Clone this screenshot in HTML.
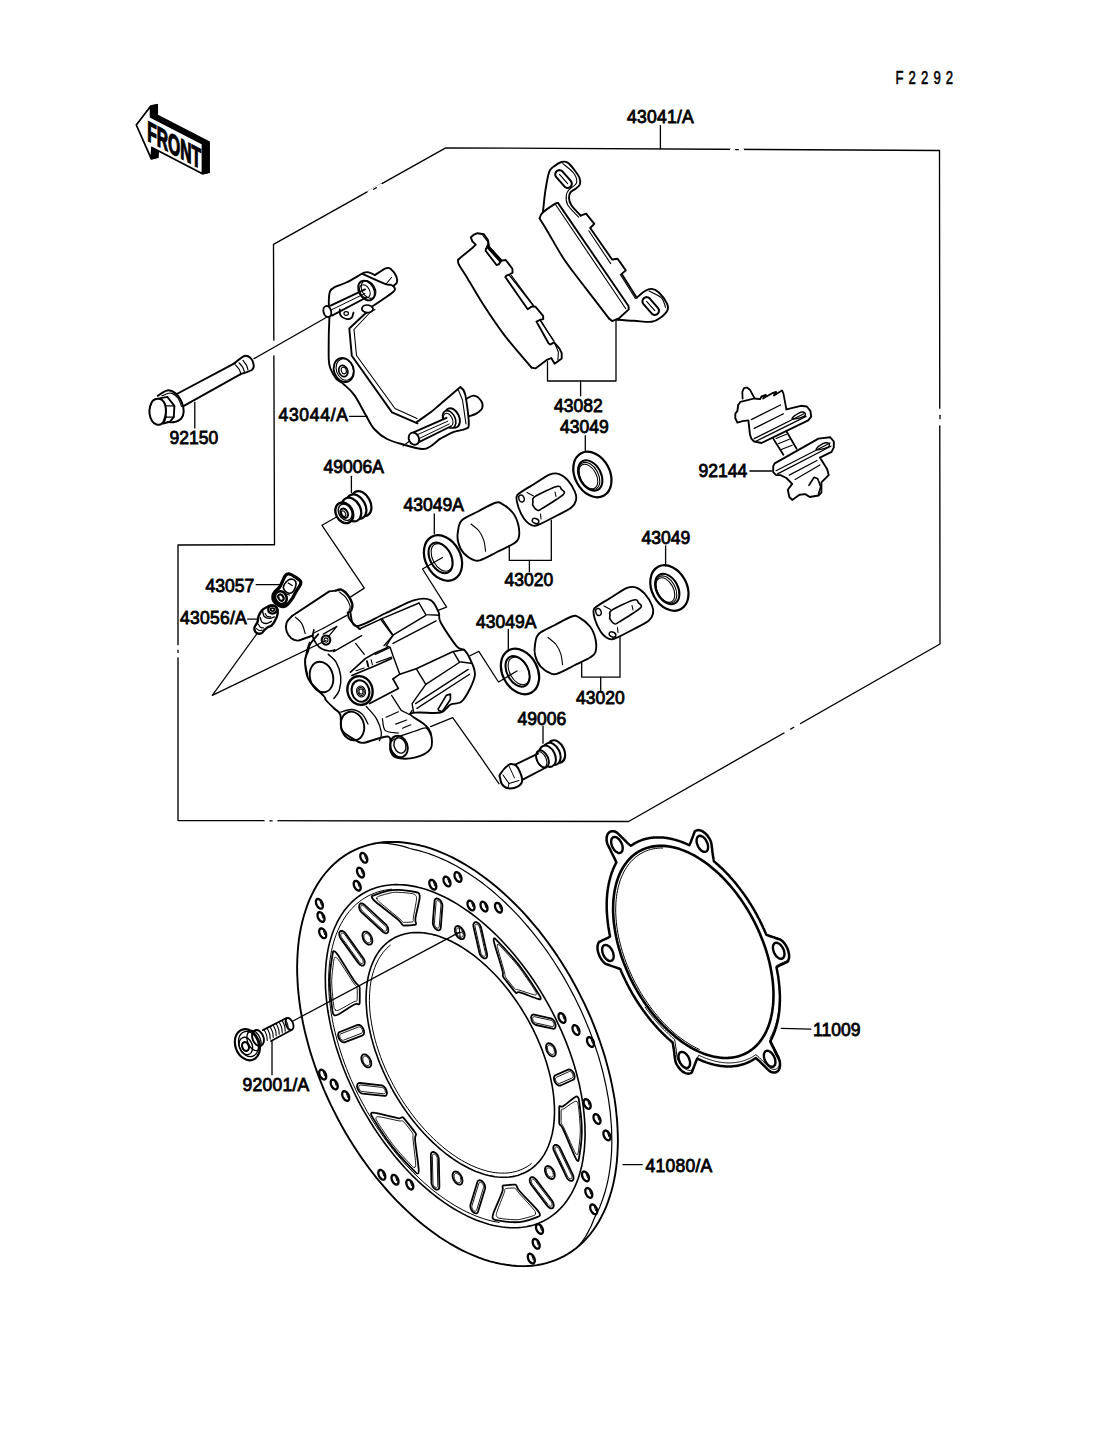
<!DOCTYPE html><html><head><meta charset="utf-8"><style>
html,body{margin:0;padding:0;background:#fff;overflow:hidden;width:1096px;height:1434px}
svg{display:block}
.lbl{font-family:"Liberation Sans",sans-serif;font-size:17.5px;fill:#000;stroke:#000;stroke-width:0.8px}
.fno{font-family:"Liberation Sans",sans-serif;font-size:19px;fill:#000;stroke:#000;stroke-width:0.6px;letter-spacing:7.4px}
path,ellipse{stroke-linejoin:round;stroke-linecap:round}
</style></head><body>
<svg width="1096" height="1434" viewBox="0 0 1096 1434">
<rect width="1096" height="1434" fill="#fff"/>
<path d="M445.7,147.8 L939.5,150.5 L940.0,644.0 L628.6,821.5 L178.0,820.5 L178.0,545.0 L274.5,544.7 L273.5,244.3 Z" fill="none" stroke="#000" stroke-width="1.35" />
<path d="M731.5,149.6 L742.5,149.7" stroke="#fff" stroke-width="3.2" stroke-linecap="butt"/>
<path d="M735.7,149.6 L738.3,149.7" stroke="#000" stroke-width="1.3"/>
<path d="M178,646.5 L178,656" stroke="#fff" stroke-width="3.2" stroke-linecap="butt"/>
<path d="M178.0,650.1 L178.0,652.4" stroke="#000" stroke-width="1.3"/>
<path d="M369,191.8 L381,185.2" stroke="#fff" stroke-width="3.2" stroke-linecap="butt"/>
<path d="M373.6,189.3 L376.4,187.7" stroke="#000" stroke-width="1.3"/>
<path d="M798.8,724.5 L785.7,731.9" stroke="#fff" stroke-width="3.2" stroke-linecap="butt"/>
<path d="M793.8,727.3 L790.7,729.1" stroke="#000" stroke-width="1.3"/>
<path d="M266,820.8 L276,820.8" stroke="#fff" stroke-width="3.2" stroke-linecap="butt"/>
<path d="M269.8,820.8 L272.2,820.8" stroke="#000" stroke-width="1.3"/>
<path d="M273.6,342 L273.6,354" stroke="#fff" stroke-width="3.2" stroke-linecap="butt"/>
<path d="M940,410 L940,424" stroke="#fff" stroke-width="3.2" stroke-linecap="butt"/>
<path d="M940.0,415.3 L940.0,418.7" stroke="#000" stroke-width="1.3"/>
<text transform="translate(895.5,84) scale(0.69,1)" class="fno">F2292</text>
<text x="627" y="123" class="lbl" letter-spacing="0.25">43041/A</text>
<text x="169.5" y="444.3" class="lbl" text-anchor="start">92150</text>
<text x="278.5" y="421.3" class="lbl" letter-spacing="0.7">43044/A</text>
<text x="554" y="411.6" class="lbl" text-anchor="start">43082</text>
<text x="560" y="433" class="lbl" text-anchor="start">43049</text>
<text x="323.5" y="473" class="lbl" text-anchor="start">49006A</text>
<text x="403.5" y="511.3" class="lbl" text-anchor="start">43049A</text>
<text x="698.5" y="477.3" class="lbl" text-anchor="start">92144</text>
<text x="504.5" y="586.3" class="lbl" text-anchor="start">43020</text>
<text x="641.5" y="543.5" class="lbl" text-anchor="start">43049</text>
<text x="205.5" y="591.5" class="lbl" text-anchor="start">43057</text>
<text x="180" y="624" class="lbl" letter-spacing="0.25">43056/A</text>
<text x="476" y="627.5" class="lbl" text-anchor="start">43049A</text>
<text x="576" y="704" class="lbl" text-anchor="start">43020</text>
<text x="517.5" y="724.6" class="lbl" text-anchor="start">49006</text>
<text x="813" y="1035.5" class="lbl" text-anchor="start">11009</text>
<text x="242.5" y="1090.8" class="lbl" letter-spacing="0.25">92001/A</text>
<text x="645.5" y="1172.2" class="lbl" letter-spacing="0.25">41080/A</text>
<path d="M660.4,125.6 L660.4,148.8" fill="none" stroke="#000" stroke-width="1.30" />
<path d="M194.8,402.4 L194.8,428.0" fill="none" stroke="#000" stroke-width="1.30" />
<path d="M349.5,416.3 L367.0,416.3" fill="none" stroke="#000" stroke-width="1.30" />
<path d="M547.5,361.4 L547.5,381.0 L616.0,381.0 L616.0,321.0" fill="none" stroke="#000" stroke-width="1.30" />
<path d="M580.6,381.0 L580.6,395.8" fill="none" stroke="#000" stroke-width="1.30" />
<path d="M585.3,435.7 L585.3,450.5" fill="none" stroke="#000" stroke-width="1.30" />
<path d="M351.4,476.3 L351.4,492.4" fill="none" stroke="#000" stroke-width="1.30" />
<path d="M434.3,513.8 L434.3,533.8" fill="none" stroke="#000" stroke-width="1.30" />
<path d="M509.3,546.8 L509.3,560.4 L551.3,560.4 L551.3,520.3" fill="none" stroke="#000" stroke-width="1.30" />
<path d="M529.4,560.4 L529.4,571.4" fill="none" stroke="#000" stroke-width="1.30" />
<path d="M665.6,546.0 L665.6,566.0" fill="none" stroke="#000" stroke-width="1.30" />
<path d="M508.3,629.5 L508.3,649.2" fill="none" stroke="#000" stroke-width="1.30" />
<path d="M581.7,661.2 L581.7,677.2 L620.0,677.2 L620.0,627.3" fill="none" stroke="#000" stroke-width="1.30" />
<path d="M600.7,677.2 L600.7,690.8" fill="none" stroke="#000" stroke-width="1.30" />
<path d="M543.0,726.1 L543.0,743.2" fill="none" stroke="#000" stroke-width="1.30" />
<path d="M256.2,584.7 L279.4,584.7" fill="none" stroke="#000" stroke-width="1.30" />
<path d="M247.7,619.2 L257.4,619.2" fill="none" stroke="#000" stroke-width="1.30" />
<path d="M749.9,471.0 L771.8,471.0" fill="none" stroke="#000" stroke-width="1.30" />
<path d="M781.4,1028.4 L810.8,1029.2" fill="none" stroke="#000" stroke-width="1.30" />
<path d="M623.0,1164.6 L642.2,1164.6" fill="none" stroke="#000" stroke-width="1.30" />
<path d="M272.0,1041.0 L272.0,1074.8" fill="none" stroke="#000" stroke-width="1.30" />
<path d="M254.0,358.6 L326.2,317.5" fill="none" stroke="#000" stroke-width="1.25" />
<path d="M293.0,1021.0 L459.2,932.4" fill="none" stroke="#000" stroke-width="1.25" />
<path d="M337.4,516.5 L322.0,525.3 L364.3,588.1 L350.3,597.1" fill="none" stroke="#000" stroke-width="1.25" />
<path d="M442.5,557.5 L422.5,569.0 L446.6,607.2 L438.6,610.2" fill="none" stroke="#000" stroke-width="1.25" />
<path d="M517.0,671.0 L498.5,682.0 L478.8,651.4 L470.0,655.8" fill="none" stroke="#000" stroke-width="1.25" />
<path d="M499.1,783.8 L480.0,756.2 L452.7,717.6 L430.6,726.6" fill="none" stroke="#000" stroke-width="1.25" />
<path d="M257.4,633.1 L212.3,695.4 L326.0,640.5" fill="none" stroke="#000" stroke-width="1.25" />
<path d="M301.7,1016.1 L300.4,1008.8 L299.4,1001.6 L298.6,994.5 L297.9,987.4 L297.5,980.4 L297.2,973.5 L297.1,966.7 L297.3,960.0 L297.6,953.5 L298.1,947.0 L298.8,940.7 L299.7,934.5 L300.8,928.4 L302.1,922.5 L303.6,916.8 L305.3,911.3 L307.1,905.9 L309.1,900.7 L311.4,895.6 L313.8,890.8 L316.3,886.2 L319.1,881.7 L322.0,877.5 L325.1,873.5 L328.3,869.8 L331.7,866.2 L335.2,862.9 L338.9,859.8 L342.8,856.9 L346.8,854.3 L350.9,851.9 L355.1,849.8 L359.5,847.9 L364.0,846.3 L368.6,844.9 L373.3,843.8 L378.1,842.9 L383.0,842.3 L388.0,842.0 L393.1,841.9 L398.3,842.0 L403.5,842.5 L408.8,843.2 L414.2,844.1 L419.6,845.3 L425.1,846.7 L430.6,848.4 L436.1,850.4 L441.6,852.6 L447.2,855.0 L452.8,857.7 L458.4,860.7 L464.0,863.8 L469.6,867.2 L475.2,870.8 L480.7,874.7 L486.2,878.8 L491.7,883.0 L497.2,887.5 L502.6,892.2 L507.9,897.1 L513.2,902.2 L518.4,907.4 L523.6,912.9 L528.6,918.5 L533.6,924.3 L538.5,930.2 L543.3,936.3 L547.9,942.5 L552.5,948.9 L557.0,955.4 L561.3,962.0 L565.5,968.7 L569.6,975.6 L573.5,982.5 L577.3,989.5 L580.9,996.6 L584.4,1003.7 L587.8,1011.0 L591.0,1018.2 L594.0,1025.6 L596.8,1032.9 L599.5,1040.3 L602.0,1047.7 L604.4,1055.1 L606.5,1062.5 L608.5,1069.9 L610.3,1077.3 L611.9,1084.6 L613.3,1091.9 L614.6,1099.2 L615.6,1106.4 L616.4,1113.5 L617.1,1120.6 L617.5,1127.6 L617.8,1134.5 L617.9,1141.3 L617.7,1148.0 L617.4,1154.5 L616.9,1161.0 L616.2,1167.3 L615.3,1173.5 L614.2,1179.6 L612.9,1185.5 L611.4,1191.2 L609.7,1196.7 L607.9,1202.1 L605.9,1207.3 L603.6,1212.4 L601.2,1217.2 L598.7,1221.8 L595.9,1226.3 L593.0,1230.5 L589.9,1234.5 L586.7,1238.2 L583.3,1241.8 L579.8,1245.1 L576.1,1248.2 L572.2,1251.1 L568.2,1253.7 L564.1,1256.1 L559.9,1258.2 L555.5,1260.1 L551.0,1261.7 L546.4,1263.1 L541.7,1264.2 L536.9,1265.1 L532.0,1265.7 L527.0,1266.0 L521.9,1266.1 L516.7,1266.0 L511.5,1265.5 L506.2,1264.8 L500.8,1263.9 L495.4,1262.7 L489.9,1261.3 L484.4,1259.6 L478.9,1257.6 L473.4,1255.4 L467.8,1253.0 L462.2,1250.3 L456.6,1247.3 L451.0,1244.2 L445.4,1240.8 L439.8,1237.2 L434.3,1233.3 L428.8,1229.2 L423.3,1225.0 L417.8,1220.5 L412.4,1215.8 L407.1,1210.9 L401.8,1205.8 L396.6,1200.6 L391.4,1195.1 L386.4,1189.5 L381.4,1183.7 L376.5,1177.8 L371.7,1171.7 L367.1,1165.5 L362.5,1159.1 L358.0,1152.6 L353.7,1146.0 L349.5,1139.3 L345.4,1132.4 L341.5,1125.5 L337.7,1118.5 L334.1,1111.4 L330.6,1104.3 L327.2,1097.0 L324.0,1089.8 L321.0,1082.4 L318.2,1075.1 L315.5,1067.7 L313.0,1060.3 L310.6,1052.9 L308.5,1045.5 L306.5,1038.1 L304.7,1030.7 L303.1,1023.4 L301.7,1016.1 Z" fill="none" stroke="#000" stroke-width="1.90" />
<path d="M378.1,842.9 L381.2,843.0 L384.3,843.1 L387.4,843.4 L390.5,843.8 L393.7,844.3 L396.9,844.9 L400.2,845.6 L403.4,846.4 L406.7,847.4 L409.9,848.5 L413.4,849.4 L417.0,850.2 L420.6,851.1 L424.2,852.2 L427.8,853.3 L431.5,854.6 L435.1,856.0 L438.8,857.5 L442.5,859.1 L446.2,860.8 L449.9,862.6 L453.6,864.5 L457.3,866.6 L461.0,868.7 L464.6,870.9 L468.3,873.3 L472.0,875.7 L475.7,878.2 L479.3,880.8 L483.0,883.6 L486.6,886.4 L490.2,889.3 L493.8,892.3 L497.3,895.4 L500.9,898.6 L504.4,901.8 L507.9,905.2 L511.4,908.6 L514.8,912.1 L518.2,915.7 L521.5,919.4 L524.8,923.1 L528.1,927.0 L531.4,930.8 L534.6,934.8 L537.7,938.8 L540.8,942.9 L543.9,947.0 L546.9,951.2 L549.9,955.5 L552.8,959.8 L555.6,964.2 L558.4,968.6 L561.2,973.1 L563.9,977.6 L566.5,982.2 L569.0,986.8 L571.5,991.4 L574.0,996.1 L576.3,1000.8 L578.6,1005.5 L580.9,1010.2 L583.0,1015.0 L585.1,1019.8 L587.1,1024.7 L589.1,1029.5 L591.0,1034.4 L592.8,1039.2 L594.5,1044.1 L596.1,1049.0 L597.7,1053.9 L599.2,1058.8 L600.6,1063.6 L601.9,1068.5 L603.2,1073.4 L604.3,1078.3 L605.4,1083.1 L606.4,1088.0 L607.3,1092.8 L608.2,1097.6 L608.9,1102.3 L609.6,1107.1 L610.2,1111.8 L610.6,1116.5 L611.0,1121.2 L611.4,1125.8 L611.6,1130.4 L611.7,1134.9 L611.8,1139.4 L611.8,1143.9 L611.7,1148.3 L611.5,1152.6 L611.2,1156.9 L610.8,1161.2 L610.4,1165.3 L609.8,1169.5 L609.2,1173.5 L608.5,1177.5 L607.7,1181.5 L606.8,1185.3 L605.8,1189.1 L604.8,1192.8 L603.6,1196.5 L602.4,1200.0 L601.1,1203.5 L599.8,1206.9 L598.3,1210.3 L596.8,1213.5 L595.1,1216.6 L593.7,1219.8 L592.5,1222.8 L591.2,1225.9 L589.8,1228.8 L588.3,1231.6 L586.8,1234.4 L585.2,1237.0 L583.5,1239.6 L581.7,1242.1 L579.9,1244.4 L577.9,1246.7" fill="none" stroke="#000" stroke-width="1.20" />
<path d="M329.9,1022.1 L328.8,1016.3 L327.8,1010.5 L327.0,1004.7 L326.4,999.0 L325.9,993.4 L325.5,987.9 L325.4,982.4 L325.3,977.1 L325.5,971.8 L325.8,966.7 L326.2,961.6 L326.9,956.7 L327.6,951.8 L328.5,947.2 L329.6,942.6 L330.9,938.2 L332.2,933.9 L333.8,929.8 L335.5,925.8 L337.3,922.0 L339.3,918.3 L341.4,914.9 L343.6,911.6 L346.0,908.4 L348.5,905.5 L351.2,902.7 L354.0,900.1 L356.9,897.7 L359.9,895.5 L363.0,893.5 L366.3,891.7 L369.6,890.1 L373.1,888.7 L376.7,887.5 L380.3,886.5 L384.1,885.7 L387.9,885.2 L391.8,884.8 L395.8,884.6 L399.9,884.7 L404.0,884.9 L408.2,885.4 L412.5,886.1 L416.8,886.9 L421.1,888.0 L425.5,889.3 L429.9,890.8 L434.4,892.5 L438.9,894.4 L443.4,896.5 L447.9,898.8 L452.4,901.3 L457.0,903.9 L461.5,906.8 L466.0,909.8 L470.5,913.0 L475.0,916.4 L479.5,920.0 L483.9,923.7 L488.3,927.6 L492.7,931.6 L497.0,935.8 L501.3,940.2 L505.5,944.7 L509.6,949.3 L513.7,954.0 L517.7,958.9 L521.7,963.9 L525.5,969.0 L529.3,974.2 L533.0,979.5 L536.6,984.9 L540.0,990.4 L543.4,996.0 L546.7,1001.6 L549.9,1007.3 L552.9,1013.1 L555.8,1018.9 L558.6,1024.8 L561.3,1030.7 L563.9,1036.6 L566.3,1042.6 L568.6,1048.6 L570.7,1054.6 L572.7,1060.6 L574.6,1066.5 L576.3,1072.5 L577.8,1078.5 L579.3,1084.4 L580.5,1090.3 L581.6,1096.1 L582.6,1101.9 L583.4,1107.7 L584.0,1113.4 L584.5,1119.0 L584.9,1124.5 L585.0,1130.0 L585.1,1135.3 L584.9,1140.6 L584.6,1145.7 L584.2,1150.8 L583.5,1155.7 L582.8,1160.6 L581.9,1165.2 L580.8,1169.8 L579.5,1174.2 L578.2,1178.5 L576.6,1182.6 L574.9,1186.6 L573.1,1190.4 L571.1,1194.1 L569.0,1197.5 L566.8,1200.8 L564.4,1204.0 L561.9,1206.9 L559.2,1209.7 L556.4,1212.3 L553.5,1214.7 L550.5,1216.9 L547.4,1218.9 L544.1,1220.7 L540.8,1222.3 L537.3,1223.7 L533.7,1224.9 L530.1,1225.9 L526.3,1226.7 L522.5,1227.2 L518.6,1227.6 L514.6,1227.8 L510.5,1227.7 L506.4,1227.5 L502.2,1227.0 L497.9,1226.3 L493.6,1225.5 L489.3,1224.4 L484.9,1223.1 L480.5,1221.6 L476.0,1219.9 L471.5,1218.0 L467.0,1215.9 L462.5,1213.6 L458.0,1211.1 L453.4,1208.5 L448.9,1205.6 L444.4,1202.6 L439.9,1199.4 L435.4,1196.0 L430.9,1192.4 L426.5,1188.7 L422.1,1184.8 L417.7,1180.8 L413.4,1176.6 L409.1,1172.2 L404.9,1167.7 L400.8,1163.1 L396.7,1158.4 L392.7,1153.5 L388.7,1148.5 L384.9,1143.4 L381.1,1138.2 L377.4,1132.9 L373.8,1127.5 L370.4,1122.0 L367.0,1116.4 L363.7,1110.8 L360.5,1105.1 L357.5,1099.3 L354.6,1093.5 L351.8,1087.6 L349.1,1081.7 L346.5,1075.8 L344.1,1069.8 L341.8,1063.8 L339.7,1057.8 L337.7,1051.8 L335.8,1045.9 L334.1,1039.9 L332.6,1033.9 L331.1,1028.0 L329.9,1022.1 Z" fill="none" stroke="#000" stroke-width="1.60" />
<path d="M499.0,1222.4 L495.0,1221.7 L491.0,1220.8 L487.0,1219.8 L482.9,1218.5 L478.9,1217.1 L474.7,1215.5 L470.6,1213.7 L466.5,1211.8 L462.3,1209.7 L458.1,1207.4 L454.0,1205.0 L449.8,1202.3 L445.6,1199.6 L441.5,1196.7 L437.3,1193.6 L433.2,1190.4 L429.1,1187.0 L425.0,1183.5 L421.0,1179.9 L417.0,1176.1 L413.0,1172.2 L409.1,1168.1 L405.3,1164.0 L401.4,1159.7 L397.7,1155.3 L394.0,1150.8 L390.4,1146.2 L386.8,1141.5 L383.4,1136.7 L380.0,1131.8 L376.6,1126.9 L373.4,1121.8 L370.3,1116.7 L367.2,1111.6 L364.3,1106.3 L361.4,1101.0 L358.7,1095.7 L356.0,1090.3 L353.5,1084.9 L351.0,1079.5 L348.7,1074.0 L346.5,1068.5 L344.4,1063.0 L342.5,1057.5 L340.6,1051.9 L338.9,1046.4 L337.3,1040.9 L335.9,1035.5 L334.5,1030.0 L333.3,1024.6 L332.3,1019.2 L331.3,1013.8 L330.5,1008.5 L329.9,1003.2 L329.3,998.0 L329.0,992.9 L328.7,987.8 L328.6,982.8 L328.6,977.9 L328.8,973.1 L329.1,968.3 L329.5,963.7 L330.1,959.2 L330.8,954.7 L331.6,950.4 L332.6,946.2 L333.7,942.1 L334.9,938.1 L336.3,934.3 L337.8,930.6 L339.4,927.0 L341.2,923.6 L343.1,920.3 L345.1,917.1 L347.2,914.1 L349.4,911.3 L351.8,908.6 L354.2,906.1 L356.8,903.7 L359.5,901.6 L362.3,899.5 L365.2,897.7 L368.1,896.0 L371.2,894.5 L374.4,893.2 L377.6,892.0 L381.0,891.1 L384.4,890.3 L387.9,889.7 L391.5,889.2" fill="none" stroke="#000" stroke-width="1.00" />
<path d="M369.6,1029.7 L368.7,1025.5 L368.0,1021.4 L367.4,1017.3 L366.9,1013.3 L366.6,1009.3 L366.3,1005.3 L366.1,1001.5 L366.1,997.7 L366.2,993.9 L366.4,990.2 L366.7,986.7 L367.1,983.2 L367.7,979.7 L368.3,976.4 L369.1,973.2 L370.0,970.0 L371.0,967.0 L372.1,964.1 L373.3,961.3 L374.6,958.6 L376.0,956.0 L377.5,953.6 L379.1,951.2 L380.8,949.0 L382.7,946.9 L384.6,945.0 L386.6,943.2 L388.7,941.5 L390.8,940.0 L393.1,938.6 L395.4,937.3 L397.9,936.2 L400.4,935.2 L402.9,934.4 L405.6,933.7 L408.3,933.2 L411.1,932.8 L413.9,932.6 L416.8,932.5 L419.7,932.6 L422.7,932.8 L425.7,933.1 L428.8,933.7 L431.9,934.3 L435.1,935.1 L438.3,936.1 L441.5,937.2 L444.7,938.4 L448.0,939.8 L451.2,941.3 L454.5,943.0 L457.8,944.8 L461.1,946.7 L464.4,948.8 L467.6,951.0 L470.9,953.3 L474.2,955.7 L477.4,958.3 L480.6,961.0 L483.8,963.8 L487.0,966.7 L490.1,969.7 L493.2,972.8 L496.3,976.0 L499.3,979.3 L502.3,982.8 L505.2,986.2 L508.1,989.8 L510.9,993.5 L513.6,997.2 L516.3,1001.0 L518.9,1004.9 L521.4,1008.8 L523.9,1012.8 L526.3,1016.8 L528.6,1020.9 L530.8,1025.1 L533.0,1029.2 L535.0,1033.4 L537.0,1037.6 L538.8,1041.9 L540.6,1046.1 L542.3,1050.4 L543.8,1054.7 L545.3,1058.9 L546.7,1063.2 L547.9,1067.5 L549.1,1071.7 L550.1,1075.9 L551.0,1080.1 L551.9,1084.3 L552.6,1088.4 L553.2,1092.5 L553.7,1096.5 L554.0,1100.5 L554.3,1104.5 L554.5,1108.3 L554.5,1112.1 L554.4,1115.9 L554.2,1119.6 L553.9,1123.1 L553.5,1126.6 L552.9,1130.1 L552.3,1133.4 L551.5,1136.6 L550.6,1139.8 L549.6,1142.8 L548.5,1145.7 L547.3,1148.5 L546.0,1151.2 L544.6,1153.8 L543.1,1156.2 L541.5,1158.6 L539.8,1160.8 L537.9,1162.9 L536.0,1164.8 L534.0,1166.6 L531.9,1168.3 L529.8,1169.8 L527.5,1171.2 L525.2,1172.5 L522.7,1173.6 L520.2,1174.6 L517.7,1175.4 L515.0,1176.1 L512.3,1176.6 L509.5,1177.0 L506.7,1177.2 L503.8,1177.3 L500.9,1177.2 L497.9,1177.0 L494.9,1176.7 L491.8,1176.1 L488.7,1175.5 L485.5,1174.7 L482.3,1173.7 L479.1,1172.6 L475.9,1171.4 L472.6,1170.0 L469.4,1168.5 L466.1,1166.8 L462.8,1165.0 L459.5,1163.1 L456.2,1161.0 L453.0,1158.8 L449.7,1156.5 L446.4,1154.1 L443.2,1151.5 L440.0,1148.8 L436.8,1146.0 L433.6,1143.1 L430.5,1140.1 L427.4,1137.0 L424.3,1133.8 L421.3,1130.5 L418.3,1127.0 L415.4,1123.6 L412.5,1120.0 L409.7,1116.3 L407.0,1112.6 L404.3,1108.8 L401.7,1104.9 L399.2,1101.0 L396.7,1097.0 L394.3,1093.0 L392.0,1088.9 L389.8,1084.7 L387.6,1080.6 L385.6,1076.4 L383.6,1072.2 L381.8,1067.9 L380.0,1063.7 L378.3,1059.4 L376.8,1055.1 L375.3,1050.9 L373.9,1046.6 L372.7,1042.3 L371.5,1038.1 L370.5,1033.9 L369.6,1029.7 Z" fill="none" stroke="#000" stroke-width="1.60" />
<path d="M531.3,1163.6 L529.3,1165.2 L527.1,1166.6 L524.9,1167.9 L522.6,1169.0 L520.2,1170.0 L517.7,1170.9 L515.2,1171.6 L512.6,1172.2 L509.9,1172.7 L507.2,1173.0 L504.4,1173.1 L501.6,1173.1 L498.7,1173.0 L495.8,1172.7 L492.8,1172.3 L489.8,1171.7 L486.8,1171.0 L483.7,1170.1 L480.6,1169.1 L477.5,1168.0 L474.3,1166.7 L471.2,1165.3 L468.0,1163.8 L464.8,1162.1 L461.6,1160.3 L458.4,1158.4 L455.3,1156.3 L452.1,1154.1 L448.9,1151.8 L445.8,1149.4 L442.6,1146.8 L439.5,1144.2 L436.4,1141.4 L433.4,1138.5 L430.3,1135.5 L427.4,1132.5 L424.4,1129.3 L421.5,1126.0 L418.6,1122.7 L415.8,1119.3 L413.1,1115.8 L410.4,1112.2 L407.8,1108.5 L405.2,1104.8 L402.7,1101.0 L400.3,1097.2 L397.9,1093.3 L395.7,1089.3 L393.5,1085.4 L391.4,1081.3 L389.3,1077.3 L387.4,1073.2 L385.5,1069.1 L383.8,1065.0 L382.1,1060.9 L380.5,1056.7 L379.1,1052.6 L377.7,1048.4 L376.4,1044.3 L375.2,1040.2 L374.2,1036.1 L373.2,1032.0 L372.4,1027.9 L371.6,1023.9 L371.0,1019.9 L370.4,1016.0 L370.0,1012.1 L369.7,1008.2 L369.5,1004.4 L369.4,1000.7 L369.5,997.0 L369.6,993.5 L369.9,989.9 L370.2,986.5 L370.7,983.1 L371.3,979.9 L372.0,976.7 L372.8,973.6 L373.7,970.6 L374.7,967.7 L375.8,964.9 L377.0,962.3 L378.3,959.7 L379.7,957.3 L381.3,955.0 L382.9,952.7 L384.6,950.7 L386.4,948.7 L388.3,946.9 L390.3,945.2" fill="none" stroke="#000" stroke-width="1.00" />
<path d="M577.9,1097.3 C578.7,1098.0 578.6,1097.3 579.2,1101.7 C579.8,1106.1 581.2,1117.4 581.6,1123.6 C581.9,1129.9 581.9,1133.4 581.5,1139.1 C581.1,1144.9 579.6,1154.4 579.0,1158.0 C578.4,1161.6 578.4,1161.1 577.7,1160.8 C577.0,1160.5 577.1,1161.4 574.7,1156.2 C572.3,1151.0 565.7,1134.8 563.2,1129.4 C560.7,1124.1 560.3,1125.7 559.7,1124.3 C559.0,1122.8 559.3,1123.4 559.2,1120.8 C559.2,1118.2 559.2,1111.2 559.2,1108.7 C559.3,1106.2 559.0,1106.4 559.7,1106.0 C560.3,1105.5 560.7,1107.5 563.2,1106.1 C565.7,1104.6 572.4,1098.7 574.9,1097.2 C577.3,1095.7 577.2,1096.5 577.9,1097.3 Z" fill="none" stroke="#000" stroke-width="1.80" />
<path d="M577.0,1101.9 C577.7,1102.7 577.9,1102.6 578.4,1106.4 C579.0,1110.3 579.8,1120.4 580.1,1125.2 C580.4,1130.0 580.4,1130.9 580.1,1135.4 C579.8,1139.8 578.8,1148.8 578.3,1151.9 C577.7,1155.1 577.5,1154.7 576.8,1154.5 C576.1,1154.2 576.2,1154.7 574.0,1150.3 C571.9,1145.9 566.0,1132.3 563.9,1127.9 C561.9,1123.5 562.1,1125.1 561.6,1123.8 C561.2,1122.6 561.2,1122.3 561.1,1120.3 C561.1,1118.3 561.1,1113.9 561.2,1112.0 C561.2,1110.2 561.2,1109.8 561.6,1109.3 C562.1,1108.7 561.9,1109.9 564.0,1108.7 C566.0,1107.4 572.0,1102.9 574.2,1101.8 C576.3,1100.7 576.3,1101.2 577.0,1101.9 Z" fill="none" stroke="#000" stroke-width="0.90" />
<path d="M566.4,1176.9 L567.1,1178.2 L568.0,1179.3 L569.0,1180.2 L570.1,1180.7 L571.1,1180.9 L572.0,1180.8 L572.7,1180.3 L573.3,1179.4 L573.5,1178.4 L573.5,1177.1 L573.2,1175.7 L572.7,1174.4 L560.5,1148.8 L559.7,1147.5 L558.8,1146.4 L557.8,1145.5 L556.8,1145.0 L555.8,1144.8 L554.9,1144.9 L554.1,1145.4 L553.6,1146.2 L553.3,1147.3 L553.3,1148.6 L553.6,1150.0 L554.2,1151.3 Z" fill="none" stroke="#000" stroke-width="1.80" />
<path d="M567.6,1176.4 L568.1,1177.2 L568.6,1177.8 L569.2,1178.4 L569.9,1178.7 L570.5,1178.8 L571.0,1178.7 L571.5,1178.4 L571.8,1177.9 L571.9,1177.3 L571.9,1176.5 L571.8,1175.7 L571.4,1174.9 L559.2,1149.3 L558.8,1148.5 L558.2,1147.8 L557.6,1147.3 L557.0,1147.0 L556.4,1146.9 L555.8,1147.0 L555.4,1147.3 L555.1,1147.8 L554.9,1148.4 L554.9,1149.2 L555.1,1150.0 L555.4,1150.8 Z" fill="none" stroke="#000" stroke-width="0.90" />
<path d="M547.5,1206.1 L548.5,1207.1 L549.5,1207.9 L550.5,1208.3 L551.5,1208.4 L552.4,1208.2 L553.1,1207.6 L553.5,1206.6 L553.7,1205.5 L553.6,1204.2 L553.2,1202.8 L552.6,1201.4 L551.8,1200.2 L535.9,1179.4 L534.9,1178.4 L533.9,1177.6 L532.8,1177.2 L531.9,1177.1 L531.0,1177.4 L530.3,1178.0 L529.9,1178.9 L529.7,1180.0 L529.8,1181.4 L530.2,1182.7 L530.8,1184.1 L531.6,1185.3 Z" fill="none" stroke="#000" stroke-width="1.80" />
<path d="M548.4,1204.9 L549.0,1205.5 L549.6,1206.0 L550.2,1206.3 L550.8,1206.3 L551.3,1206.2 L551.7,1205.8 L552.0,1205.2 L552.1,1204.5 L552.0,1203.8 L551.8,1202.9 L551.4,1202.1 L551.0,1201.4 L535.0,1180.6 L534.4,1180.0 L533.8,1179.5 L533.2,1179.3 L532.6,1179.2 L532.1,1179.4 L531.7,1179.7 L531.4,1180.3 L531.3,1181.0 L531.4,1181.8 L531.6,1182.6 L532.0,1183.4 L532.4,1184.2 Z" fill="none" stroke="#000" stroke-width="0.90" />
<path d="M554.7,1173.7 L554.8,1175.3 L554.6,1176.8 L554.1,1177.9 L553.3,1178.7 L552.2,1179.1 L551.0,1179.0 L549.7,1178.5 L548.4,1177.5 L547.2,1176.3 L546.2,1174.7 L545.5,1173.1 L545.0,1171.3 L544.9,1169.7 L545.1,1168.3 L545.6,1167.1 L546.4,1166.3 L547.4,1166.0 L548.6,1166.1 L549.9,1166.6 L551.2,1167.5 L552.4,1168.8 L553.4,1170.3 L554.2,1172.0 L554.7,1173.7 Z" fill="none" stroke="#000" stroke-width="1.80" />
<path d="M553.3,1173.4 L553.3,1174.5 L553.2,1175.5 L552.8,1176.4 L552.3,1176.9 L551.5,1177.2 L550.7,1177.1 L549.7,1176.7 L548.8,1176.1 L548.0,1175.2 L547.3,1174.1 L546.7,1172.9 L546.4,1171.7 L546.3,1170.5 L546.4,1169.5 L546.8,1168.7 L547.4,1168.1 L548.1,1167.9 L549.0,1167.9 L549.9,1168.3 L550.8,1169.0 L551.7,1169.9 L552.4,1171.0 L552.9,1172.1 L553.3,1173.4 Z" fill="none" stroke="#000" stroke-width="0.90" />
<path d="M539.9,1214.7 C540.0,1215.9 540.4,1215.7 537.8,1216.8 C535.1,1217.9 528.1,1220.4 523.9,1221.3 C519.6,1222.2 517.0,1222.4 512.4,1222.2 C507.8,1222.0 499.4,1220.7 496.2,1220.1 C492.9,1219.5 493.4,1219.6 492.9,1218.5 C492.5,1217.3 491.9,1217.6 493.4,1213.2 C494.9,1208.8 500.6,1196.8 502.1,1192.3 C503.7,1187.8 502.2,1187.5 502.6,1186.3 C503.1,1185.2 502.9,1185.6 504.8,1185.4 C506.6,1185.1 511.9,1184.7 513.8,1184.7 C515.8,1184.7 515.3,1184.3 516.3,1185.4 C517.3,1186.4 516.1,1187.0 519.5,1191.0 C523.0,1195.1 533.7,1205.8 537.1,1209.8 C540.4,1213.7 539.7,1213.6 539.9,1214.7 Z" fill="none" stroke="#000" stroke-width="1.80" />
<path d="M535.5,1213.2 C535.6,1214.4 535.9,1214.7 533.6,1215.6 C531.2,1216.6 524.6,1218.4 521.4,1219.1 C518.1,1219.8 517.4,1219.8 513.8,1219.7 C510.3,1219.6 502.8,1218.9 499.9,1218.3 C497.1,1217.7 497.2,1217.4 496.7,1216.3 C496.2,1215.2 495.9,1215.3 497.1,1211.5 C498.3,1207.6 502.7,1197.1 504.0,1193.4 C505.3,1189.7 504.3,1190.2 504.8,1189.4 C505.3,1188.6 505.6,1188.6 507.0,1188.4 C508.4,1188.2 511.7,1187.9 513.2,1188.0 C514.6,1188.0 514.8,1187.9 515.7,1188.6 C516.5,1189.4 515.5,1189.0 518.3,1192.3 C521.2,1195.7 530.1,1205.2 533.0,1208.7 C535.9,1212.1 535.4,1212.1 535.5,1213.2 Z" fill="none" stroke="#000" stroke-width="0.90" />
<path d="M470.5,1204.5 L470.3,1205.7 L470.4,1207.0 L470.7,1208.4 L471.3,1209.7 L472.1,1211.0 L473.1,1212.0 L474.1,1212.8 L475.1,1213.2 L476.1,1213.3 L477.0,1213.1 L477.7,1212.5 L478.1,1211.6 L485.0,1189.0 L485.2,1187.9 L485.1,1186.6 L484.8,1185.2 L484.2,1183.8 L483.4,1182.6 L482.4,1181.5 L481.4,1180.7 L480.4,1180.3 L479.4,1180.2 L478.5,1180.5 L477.8,1181.1 L477.4,1182.0 Z" fill="none" stroke="#000" stroke-width="1.80" />
<path d="M472.0,1205.9 L471.9,1206.6 L471.9,1207.4 L472.2,1208.2 L472.5,1209.0 L473.0,1209.8 L473.6,1210.4 L474.2,1210.9 L474.8,1211.2 L475.4,1211.2 L475.9,1211.1 L476.3,1210.7 L476.6,1210.2 L483.5,1187.6 L483.6,1186.9 L483.6,1186.1 L483.4,1185.3 L483.0,1184.5 L482.5,1183.7 L481.9,1183.1 L481.3,1182.6 L480.7,1182.4 L480.1,1182.3 L479.6,1182.5 L479.2,1182.8 L478.9,1183.4 Z" fill="none" stroke="#000" stroke-width="0.90" />
<path d="M431.4,1182.3 L431.5,1183.7 L432.0,1185.0 L432.6,1186.4 L433.5,1187.6 L434.5,1188.6 L435.5,1189.3 L436.5,1189.6 L437.5,1189.6 L438.3,1189.3 L438.9,1188.6 L439.3,1187.6 L439.4,1186.4 L438.8,1159.3 L438.7,1158.0 L438.2,1156.6 L437.6,1155.2 L436.7,1154.0 L435.8,1153.1 L434.7,1152.4 L433.7,1152.0 L432.7,1152.0 L431.9,1152.4 L431.3,1153.1 L430.9,1154.0 L430.8,1155.2 Z" fill="none" stroke="#000" stroke-width="1.80" />
<path d="M433.0,1183.1 L433.1,1183.9 L433.3,1184.8 L433.7,1185.6 L434.2,1186.3 L434.8,1186.9 L435.5,1187.3 L436.1,1187.5 L436.6,1187.5 L437.1,1187.3 L437.5,1186.9 L437.7,1186.3 L437.8,1185.6 L437.2,1158.5 L437.1,1157.7 L436.9,1156.9 L436.5,1156.1 L436.0,1155.3 L435.4,1154.7 L434.8,1154.3 L434.1,1154.1 L433.6,1154.1 L433.1,1154.3 L432.7,1154.7 L432.5,1155.3 L432.4,1156.1 Z" fill="none" stroke="#000" stroke-width="0.90" />
<path d="M462.3,1179.2 L462.5,1180.9 L462.3,1182.3 L461.8,1183.5 L460.9,1184.3 L459.9,1184.6 L458.7,1184.5 L457.4,1184.0 L456.1,1183.1 L454.9,1181.8 L453.9,1180.3 L453.1,1178.6 L452.7,1176.9 L452.5,1175.3 L452.7,1173.8 L453.3,1172.7 L454.1,1171.9 L455.1,1171.5 L456.3,1171.6 L457.6,1172.1 L458.9,1173.0 L460.1,1174.3 L461.1,1175.8 L461.9,1177.5 L462.3,1179.2 Z" fill="none" stroke="#000" stroke-width="1.80" />
<path d="M460.9,1178.9 L461.0,1180.1 L460.9,1181.1 L460.5,1181.9 L459.9,1182.5 L459.2,1182.7 L458.3,1182.7 L457.4,1182.3 L456.5,1181.6 L455.7,1180.7 L455.0,1179.6 L454.4,1178.4 L454.1,1177.2 L454.0,1176.1 L454.1,1175.0 L454.5,1174.2 L455.1,1173.7 L455.8,1173.4 L456.7,1173.5 L457.6,1173.8 L458.5,1174.5 L459.3,1175.4 L460.1,1176.5 L460.6,1177.7 L460.9,1178.9 Z" fill="none" stroke="#000" stroke-width="0.90" />
<path d="M417.8,1173.5 C417.1,1173.9 417.7,1174.4 414.4,1171.2 C411.1,1167.9 402.7,1159.1 398.1,1153.8 C393.5,1148.4 390.9,1145.1 386.7,1139.2 C382.5,1133.2 375.6,1122.4 373.0,1118.1 C370.4,1113.9 370.8,1114.6 371.1,1113.7 C371.5,1112.8 370.8,1112.1 375.2,1112.9 C379.6,1113.6 393.2,1117.4 397.7,1118.1 C402.2,1118.9 401.1,1116.9 402.3,1117.2 C403.5,1117.4 403.1,1117.3 405.0,1119.7 C407.0,1122.0 412.2,1128.7 414.1,1131.1 C415.9,1133.6 415.8,1133.0 416.0,1134.5 C416.2,1136.0 414.7,1134.6 415.1,1140.3 C415.6,1145.9 418.2,1162.9 418.6,1168.4 C419.1,1174.0 418.5,1173.0 417.8,1173.5 Z" fill="none" stroke="#000" stroke-width="1.80" />
<path d="M414.8,1167.2 C414.0,1167.7 414.1,1168.1 411.2,1165.2 C408.3,1162.3 400.8,1154.0 397.3,1149.9 C393.7,1145.7 393.0,1144.9 389.8,1140.3 C386.5,1135.7 380.0,1126.1 377.7,1122.3 C375.5,1118.6 375.8,1118.7 376.1,1117.8 C376.5,1116.9 376.0,1116.4 379.8,1116.9 C383.6,1117.4 395.0,1120.1 398.7,1120.8 C402.4,1121.4 401.2,1120.4 402.3,1120.8 C403.3,1121.2 403.5,1121.6 405.0,1123.3 C406.5,1125.0 409.8,1129.2 411.2,1131.1 C412.5,1133.0 412.8,1133.2 413.1,1134.6 C413.4,1135.9 412.6,1134.3 413.0,1139.0 C413.4,1143.7 415.3,1157.9 415.6,1162.7 C415.8,1167.4 415.5,1166.8 414.8,1167.2 Z" fill="none" stroke="#000" stroke-width="0.90" />
<path d="M359.8,1083.0 L358.8,1083.1 L358.1,1083.5 L357.5,1084.3 L357.2,1085.3 L357.1,1086.6 L357.3,1087.9 L357.8,1089.3 L358.5,1090.6 L359.4,1091.8 L360.4,1092.7 L361.4,1093.3 L362.5,1093.6 L384.3,1095.9 L385.2,1095.9 L386.0,1095.4 L386.5,1094.7 L386.9,1093.7 L386.9,1092.4 L386.7,1091.1 L386.2,1089.7 L385.5,1088.4 L384.6,1087.2 L383.6,1086.3 L382.6,1085.7 L381.6,1085.4 Z" fill="none" stroke="#000" stroke-width="1.80" />
<path d="M360.3,1085.1 L359.8,1085.2 L359.3,1085.4 L358.9,1085.9 L358.8,1086.5 L358.7,1087.3 L358.9,1088.1 L359.1,1088.9 L359.6,1089.7 L360.1,1090.4 L360.7,1090.9 L361.3,1091.3 L361.9,1091.5 L383.7,1093.8 L384.3,1093.8 L384.7,1093.5 L385.1,1093.1 L385.3,1092.5 L385.3,1091.7 L385.2,1090.9 L384.9,1090.1 L384.5,1089.3 L384.0,1088.6 L383.4,1088.0 L382.7,1087.7 L382.1,1087.5 Z" fill="none" stroke="#000" stroke-width="0.90" />
<path d="M339.7,1032.0 L338.9,1032.5 L338.4,1033.3 L338.1,1034.3 L338.1,1035.6 L338.4,1037.0 L338.9,1038.4 L339.7,1039.6 L340.6,1040.8 L341.6,1041.6 L342.6,1042.2 L343.6,1042.4 L344.5,1042.3 L362.6,1035.3 L363.3,1034.8 L363.8,1034.0 L364.1,1032.9 L364.1,1031.6 L363.8,1030.2 L363.3,1028.9 L362.6,1027.6 L361.7,1026.5 L360.7,1025.6 L359.6,1025.0 L358.6,1024.8 L357.7,1024.9 Z" fill="none" stroke="#000" stroke-width="1.80" />
<path d="M340.6,1034.0 L340.2,1034.3 L339.9,1034.8 L339.7,1035.5 L339.7,1036.2 L339.9,1037.0 L340.2,1037.9 L340.6,1038.6 L341.2,1039.3 L341.8,1039.8 L342.4,1040.2 L343.0,1040.3 L343.6,1040.2 L361.6,1033.2 L362.0,1032.9 L362.3,1032.4 L362.5,1031.8 L362.5,1031.0 L362.3,1030.2 L362.0,1029.4 L361.6,1028.6 L361.0,1027.9 L360.4,1027.4 L359.8,1027.1 L359.2,1026.9 L358.7,1027.0 Z" fill="none" stroke="#000" stroke-width="0.90" />
<path d="M371.1,1062.0 L371.3,1063.7 L371.1,1065.1 L370.5,1066.3 L369.7,1067.1 L368.7,1067.4 L367.5,1067.3 L366.2,1066.8 L364.9,1065.9 L363.7,1064.6 L362.7,1063.1 L361.9,1061.4 L361.5,1059.7 L361.3,1058.1 L361.5,1056.6 L362.1,1055.5 L362.9,1054.7 L363.9,1054.3 L365.1,1054.4 L366.4,1054.9 L367.7,1055.9 L368.9,1057.1 L369.9,1058.7 L370.7,1060.3 L371.1,1062.0 Z" fill="none" stroke="#000" stroke-width="1.80" />
<path d="M369.7,1061.7 L369.8,1062.9 L369.7,1063.9 L369.3,1064.7 L368.7,1065.3 L368.0,1065.5 L367.1,1065.5 L366.2,1065.1 L365.3,1064.4 L364.5,1063.5 L363.7,1062.4 L363.2,1061.3 L362.9,1060.0 L362.8,1058.9 L362.9,1057.9 L363.3,1057.0 L363.9,1056.5 L364.6,1056.2 L365.5,1056.3 L366.4,1056.6 L367.3,1057.3 L368.1,1058.2 L368.9,1059.3 L369.4,1060.5 L369.7,1061.7 Z" fill="none" stroke="#000" stroke-width="0.90" />
<path d="M333.9,1014.8 C332.9,1014.1 333.1,1014.8 332.4,1010.4 C331.8,1006.0 330.4,994.7 330.0,988.5 C329.6,982.3 329.6,978.7 330.0,973.0 C330.5,967.3 332.0,957.7 332.6,954.1 C333.3,950.4 333.2,951.0 334.1,951.3 C335.1,951.5 334.9,950.6 338.3,955.5 C341.6,960.5 350.9,976.1 354.4,981.1 C357.8,986.2 358.2,984.6 359.1,986.0 C360.0,987.4 359.6,986.8 359.7,989.4 C359.8,992.0 359.8,999.0 359.7,1001.5 C359.6,1004.0 360.0,1003.8 359.1,1004.3 C358.2,1004.8 357.8,1002.8 354.3,1004.5 C350.8,1006.2 341.5,1012.8 338.1,1014.5 C334.7,1016.3 334.8,1015.5 333.9,1014.8 Z" fill="none" stroke="#000" stroke-width="1.80" />
<path d="M335.4,1009.9 C334.5,1009.2 334.3,1009.4 333.7,1005.5 C333.1,1001.6 332.2,991.6 331.9,986.8 C331.6,982.0 331.6,981.1 332.0,976.6 C332.3,972.1 333.3,963.2 333.9,960.0 C334.5,956.8 334.7,957.2 335.6,957.4 C336.6,957.6 336.5,957.1 339.5,961.3 C342.4,965.5 350.6,978.5 353.4,982.7 C356.2,986.9 355.9,985.4 356.5,986.6 C357.2,987.8 357.1,988.1 357.2,990.1 C357.3,992.0 357.3,996.5 357.2,998.3 C357.1,1000.2 357.1,1000.5 356.5,1001.2 C355.9,1001.8 356.2,1000.5 353.4,1002.0 C350.5,1003.4 342.3,1008.5 339.3,1009.8 C336.3,1011.1 336.4,1010.7 335.4,1009.9 Z" fill="none" stroke="#000" stroke-width="0.90" />
<path d="M345.5,933.4 L344.6,932.4 L343.5,931.5 L342.5,931.0 L341.5,930.9 L340.6,931.1 L339.9,931.6 L339.4,932.5 L339.2,933.6 L339.3,934.9 L339.6,936.3 L340.1,937.6 L340.9,938.9 L358.4,963.1 L359.4,964.2 L360.4,965.0 L361.4,965.5 L362.4,965.7 L363.3,965.5 L364.0,964.9 L364.5,964.1 L364.7,963.0 L364.7,961.7 L364.4,960.3 L363.8,958.9 L363.0,957.7 Z" fill="none" stroke="#000" stroke-width="1.80" />
<path d="M344.6,934.5 L344.0,933.9 L343.4,933.4 L342.8,933.1 L342.2,933.0 L341.7,933.1 L341.2,933.5 L340.9,934.0 L340.8,934.6 L340.8,935.4 L341.0,936.2 L341.4,937.1 L341.8,937.8 L359.4,962.0 L359.9,962.7 L360.5,963.2 L361.1,963.5 L361.7,963.6 L362.3,963.5 L362.7,963.1 L363.0,962.6 L363.1,961.9 L363.1,961.2 L362.9,960.3 L362.6,959.5 L362.1,958.8 Z" fill="none" stroke="#000" stroke-width="0.90" />
<path d="M364.3,904.7 L363.2,903.9 L362.2,903.5 L361.2,903.4 L360.4,903.6 L359.7,904.3 L359.3,905.2 L359.1,906.3 L359.2,907.6 L359.5,909.0 L360.1,910.4 L360.9,911.6 L361.9,912.6 L383.1,932.0 L384.2,932.8 L385.2,933.3 L386.2,933.3 L387.0,933.1 L387.7,932.5 L388.2,931.6 L388.3,930.4 L388.2,929.1 L387.9,927.7 L387.3,926.4 L386.5,925.1 L385.5,924.1 Z" fill="none" stroke="#000" stroke-width="1.80" />
<path d="M363.8,906.3 L363.2,905.8 L362.5,905.5 L362.0,905.5 L361.4,905.6 L361.0,906.0 L360.8,906.6 L360.7,907.3 L360.7,908.0 L361.0,908.9 L361.3,909.7 L361.8,910.4 L362.4,911.1 L383.6,930.5 L384.2,930.9 L384.9,931.2 L385.4,931.2 L386.0,931.1 L386.4,930.7 L386.6,930.2 L386.7,929.5 L386.7,928.7 L386.5,927.8 L386.1,927.0 L385.6,926.3 L385.0,925.7 Z" fill="none" stroke="#000" stroke-width="0.90" />
<path d="M372.2,939.3 L372.4,940.9 L372.2,942.4 L371.7,943.5 L370.8,944.3 L369.8,944.7 L368.6,944.6 L367.3,944.1 L366.0,943.1 L364.8,941.9 L363.8,940.4 L363.0,938.7 L362.6,937.0 L362.4,935.3 L362.6,933.9 L363.2,932.7 L364.0,931.9 L365.0,931.6 L366.2,931.7 L367.5,932.2 L368.8,933.1 L370.0,934.4 L371.0,935.9 L371.8,937.6 L372.2,939.3 Z" fill="none" stroke="#000" stroke-width="1.80" />
<path d="M370.8,939.0 L370.9,940.1 L370.8,941.2 L370.4,942.0 L369.8,942.5 L369.1,942.8 L368.2,942.7 L367.3,942.4 L366.4,941.7 L365.6,940.8 L364.9,939.7 L364.3,938.5 L364.0,937.3 L363.9,936.1 L364.0,935.1 L364.4,934.3 L365.0,933.7 L365.7,933.5 L366.6,933.5 L367.5,933.9 L368.4,934.6 L369.2,935.5 L370.0,936.6 L370.5,937.8 L370.8,939.0 Z" fill="none" stroke="#000" stroke-width="0.90" />
<path d="M372.0,897.3 C371.6,896.2 371.2,896.4 373.8,895.3 C376.5,894.2 383.4,891.7 387.6,890.8 C391.9,889.9 394.5,889.7 399.1,889.9 C403.7,890.1 412.2,891.4 415.5,892.0 C418.8,892.6 418.2,892.5 418.9,893.6 C419.6,894.7 420.1,894.4 419.6,898.6 C419.0,902.7 416.0,914.1 415.4,918.3 C414.9,922.5 416.3,922.8 416.1,923.9 C415.9,925.0 416.0,924.6 414.2,924.8 C412.4,925.1 407.1,925.5 405.1,925.5 C403.2,925.5 403.7,925.9 402.5,924.9 C401.3,923.9 402.4,923.4 398.0,919.6 C393.6,915.7 380.2,905.7 375.9,902.0 C371.6,898.3 372.3,898.4 372.0,897.3 Z" fill="none" stroke="#000" stroke-width="1.80" />
<path d="M376.9,898.6 C376.6,897.5 376.3,897.3 378.6,896.3 C380.9,895.4 387.4,893.6 390.7,892.9 C394.0,892.2 394.6,892.2 398.2,892.3 C401.8,892.4 409.3,893.1 412.2,893.6 C415.1,894.2 415.0,894.5 415.7,895.6 C416.4,896.7 416.8,896.6 416.4,900.2 C416.0,903.8 413.9,913.8 413.4,917.2 C412.9,920.7 413.7,920.2 413.3,921.0 C413.0,921.8 412.7,921.7 411.4,922.0 C410.0,922.2 406.7,922.4 405.2,922.4 C403.7,922.4 403.5,922.5 402.5,921.8 C401.4,921.1 402.7,921.4 399.0,918.3 C395.3,915.1 384.2,906.2 380.5,903.0 C376.8,899.7 377.2,899.8 376.9,898.6 Z" fill="none" stroke="#000" stroke-width="0.90" />
<path d="M442.4,906.3 L442.4,905.0 L442.1,903.7 L441.5,902.3 L440.8,901.0 L439.8,899.9 L438.8,899.1 L437.8,898.6 L436.8,898.5 L435.9,898.7 L435.2,899.2 L434.7,900.1 L434.5,901.2 L432.8,922.4 L432.9,923.7 L433.2,925.1 L433.8,926.4 L434.5,927.7 L435.5,928.8 L436.5,929.6 L437.5,930.1 L438.5,930.3 L439.4,930.1 L440.1,929.5 L440.6,928.6 L440.8,927.5 Z" fill="none" stroke="#000" stroke-width="1.80" />
<path d="M440.9,905.3 L440.8,904.5 L440.6,903.7 L440.3,902.9 L439.8,902.1 L439.3,901.5 L438.7,901.0 L438.0,900.7 L437.4,900.6 L436.9,900.7 L436.5,901.0 L436.2,901.5 L436.1,902.2 L434.4,923.4 L434.5,924.2 L434.7,925.0 L435.0,925.8 L435.5,926.6 L436.0,927.3 L436.6,927.7 L437.3,928.1 L437.9,928.1 L438.4,928.0 L438.8,927.7 L439.1,927.2 L439.2,926.5 Z" fill="none" stroke="#000" stroke-width="0.90" />
<path d="M481.2,928.1 L480.7,926.7 L480.1,925.3 L479.2,924.1 L478.2,923.2 L477.2,922.5 L476.2,922.2 L475.2,922.2 L474.4,922.6 L473.8,923.3 L473.4,924.3 L473.3,925.5 L473.5,926.8 L479.4,952.6 L479.8,954.0 L480.5,955.3 L481.4,956.5 L482.4,957.4 L483.4,958.1 L484.4,958.4 L485.4,958.4 L486.2,958.0 L486.8,957.3 L487.1,956.3 L487.2,955.1 L487.0,953.8 Z" fill="none" stroke="#000" stroke-width="1.80" />
<path d="M479.7,927.8 L479.4,927.0 L479.0,926.2 L478.5,925.5 L477.9,924.9 L477.3,924.5 L476.6,924.3 L476.1,924.3 L475.6,924.5 L475.2,925.0 L475.0,925.6 L475.0,926.3 L475.1,927.1 L480.9,952.8 L481.2,953.6 L481.6,954.4 L482.1,955.2 L482.7,955.7 L483.3,956.1 L483.9,956.3 L484.5,956.3 L485.0,956.1 L485.4,955.7 L485.6,955.1 L485.6,954.3 L485.5,953.5 Z" fill="none" stroke="#000" stroke-width="0.90" />
<path d="M464.6,933.8 L464.7,935.4 L464.5,936.8 L464.0,938.0 L463.2,938.8 L462.1,939.1 L460.9,939.1 L459.6,938.5 L458.3,937.6 L457.1,936.3 L456.1,934.8 L455.4,933.1 L454.9,931.4 L454.8,929.8 L455.0,928.3 L455.5,927.2 L456.3,926.4 L457.3,926.0 L458.6,926.1 L459.8,926.6 L461.1,927.6 L462.3,928.9 L463.3,930.4 L464.1,932.1 L464.6,933.8 Z" fill="none" stroke="#000" stroke-width="1.80" />
<path d="M463.2,933.4 L463.3,934.6 L463.1,935.6 L462.7,936.4 L462.2,937.0 L461.4,937.2 L460.6,937.2 L459.6,936.8 L458.7,936.2 L457.9,935.3 L457.2,934.2 L456.6,933.0 L456.3,931.8 L456.2,930.6 L456.3,929.6 L456.7,928.8 L457.3,928.2 L458.0,927.9 L458.9,928.0 L459.8,928.4 L460.7,929.0 L461.6,929.9 L462.3,931.0 L462.8,932.2 L463.2,933.4 Z" fill="none" stroke="#000" stroke-width="0.90" />
<path d="M494.0,938.5 C494.5,938.1 494.0,937.6 497.2,940.9 C500.5,944.2 508.8,953.0 513.4,958.4 C518.1,963.7 520.6,967.0 524.8,972.9 C529.0,978.9 536.0,989.7 538.6,994.0 C541.3,998.2 540.8,997.5 540.7,998.3 C540.5,999.2 541.2,999.9 537.8,998.9 C534.3,997.9 523.4,993.4 519.8,992.4 C516.3,991.5 517.4,993.4 516.4,993.1 C515.5,992.8 515.9,992.9 513.9,990.6 C512.0,988.2 506.8,981.5 504.9,979.1 C503.0,976.6 503.2,977.2 502.8,975.7 C502.4,974.3 503.8,975.7 502.4,970.3 C501.0,964.9 495.7,948.6 494.3,943.3 C492.9,938.0 493.5,938.9 494.0,938.5 Z" fill="none" stroke="#000" stroke-width="1.80" />
<path d="M497.7,944.6 C498.2,944.3 498.1,943.9 500.9,946.8 C503.8,949.7 511.2,958.0 514.8,962.1 C518.3,966.3 519.0,967.1 522.3,971.7 C525.5,976.3 532.1,985.9 534.4,989.6 C536.7,993.4 536.4,993.3 536.3,994.1 C536.2,994.9 536.6,995.4 533.7,994.7 C530.7,994.0 521.6,990.7 518.6,989.9 C515.7,989.0 516.8,990.1 515.9,989.6 C515.0,989.2 514.8,988.8 513.3,987.1 C511.9,985.4 508.6,981.1 507.2,979.3 C505.8,977.4 505.5,977.1 505.0,975.9 C504.6,974.6 505.5,976.1 504.3,971.6 C503.1,967.1 499.0,953.5 497.9,949.0 C496.8,944.5 497.2,945.0 497.7,944.6 Z" fill="none" stroke="#000" stroke-width="0.90" />
<path d="M552.6,1028.7 L553.6,1028.8 L554.4,1028.5 L555.1,1027.8 L555.5,1026.9 L555.6,1025.7 L555.5,1024.4 L555.1,1023.0 L554.5,1021.6 L553.7,1020.4 L552.7,1019.4 L551.7,1018.7 L550.6,1018.3 L534.1,1014.6 L533.2,1014.5 L532.3,1014.8 L531.7,1015.5 L531.3,1016.4 L531.1,1017.6 L531.3,1018.9 L531.6,1020.3 L532.3,1021.7 L533.1,1022.9 L534.1,1023.9 L535.1,1024.6 L536.1,1025.0 Z" fill="none" stroke="#000" stroke-width="1.80" />
<path d="M552.2,1026.6 L552.8,1026.7 L553.3,1026.5 L553.7,1026.1 L553.9,1025.5 L554.0,1024.8 L554.0,1024.0 L553.7,1023.2 L553.3,1022.4 L552.8,1021.6 L552.3,1021.0 L551.6,1020.6 L551.0,1020.3 L534.5,1016.7 L533.9,1016.6 L533.4,1016.8 L533.1,1017.2 L532.8,1017.8 L532.7,1018.5 L532.8,1019.3 L533.0,1020.1 L533.4,1020.9 L533.9,1021.6 L534.5,1022.2 L535.1,1022.7 L535.7,1022.9 Z" fill="none" stroke="#000" stroke-width="0.90" />
<path d="M573.2,1079.8 L573.9,1079.3 L574.4,1078.4 L574.6,1077.3 L574.6,1076.0 L574.3,1074.7 L573.8,1073.3 L573.0,1072.0 L572.1,1070.9 L571.1,1070.1 L570.0,1069.6 L569.0,1069.4 L568.1,1069.6 L555.4,1075.2 L554.7,1075.8 L554.2,1076.6 L553.9,1077.7 L554.0,1079.0 L554.3,1080.4 L554.8,1081.7 L555.6,1083.0 L556.5,1084.1 L557.5,1084.9 L558.6,1085.5 L559.6,1085.6 L560.5,1085.5 Z" fill="none" stroke="#000" stroke-width="1.80" />
<path d="M572.2,1077.8 L572.6,1077.4 L572.9,1076.9 L573.0,1076.3 L573.0,1075.5 L572.8,1074.7 L572.5,1073.9 L572.1,1073.1 L571.5,1072.4 L570.9,1071.9 L570.3,1071.6 L569.7,1071.5 L569.1,1071.6 L556.4,1077.3 L556.0,1077.6 L555.7,1078.1 L555.5,1078.8 L555.5,1079.5 L555.7,1080.4 L556.1,1081.2 L556.5,1081.9 L557.1,1082.6 L557.7,1083.1 L558.3,1083.4 L558.9,1083.5 L559.4,1083.4 Z" fill="none" stroke="#000" stroke-width="0.90" />
<path d="M555.8,1051.0 L555.9,1052.6 L555.7,1054.0 L555.2,1055.2 L554.4,1056.0 L553.3,1056.3 L552.1,1056.3 L550.8,1055.7 L549.5,1054.8 L548.3,1053.5 L547.3,1052.0 L546.6,1050.3 L546.1,1048.6 L546.0,1047.0 L546.2,1045.5 L546.7,1044.4 L547.5,1043.6 L548.5,1043.2 L549.8,1043.3 L551.0,1043.8 L552.3,1044.8 L553.5,1046.0 L554.5,1047.6 L555.3,1049.3 L555.8,1051.0 Z" fill="none" stroke="#000" stroke-width="1.80" />
<path d="M554.4,1050.6 L554.5,1051.8 L554.3,1052.8 L553.9,1053.6 L553.4,1054.2 L552.6,1054.4 L551.8,1054.4 L550.9,1054.0 L549.9,1053.3 L549.1,1052.4 L548.4,1051.4 L547.8,1050.2 L547.5,1049.0 L547.4,1047.8 L547.5,1046.8 L547.9,1046.0 L548.5,1045.4 L549.2,1045.1 L550.1,1045.2 L551.0,1045.6 L551.9,1046.2 L552.8,1047.1 L553.5,1048.2 L554.0,1049.4 L554.4,1050.6 Z" fill="none" stroke="#000" stroke-width="0.90" />
<path d="M455.7,933.6 L463.7,931.6" fill="none" stroke="#000" stroke-width="1.00" />
<path d="M459.2,927.6 L460.2,937.6" fill="none" stroke="#000" stroke-width="1.00" />
<path d="M367.2,858.6 L367.3,859.8 L367.2,860.9 L366.8,861.8 L366.3,862.4 L365.5,862.7 L364.7,862.6 L363.8,862.2 L362.8,861.5 L362.0,860.6 L361.3,859.5 L360.7,858.2 L360.4,857.0 L360.3,855.8 L360.4,854.7 L360.8,853.8 L361.3,853.2 L362.1,852.9 L362.9,853.0 L363.8,853.4 L364.8,854.1 L365.6,855.0 L366.3,856.1 L366.9,857.4 L367.2,858.6 Z" fill="none" stroke="#000" stroke-width="2.30" />
<path d="M364.6,855.6 L365.8,859.1" fill="none" stroke="#000" stroke-width="1.00" />
<path d="M363.9,873.4 L364.0,874.6 L363.9,875.7 L363.5,876.6 L363.0,877.2 L362.2,877.5 L361.4,877.4 L360.5,877.0 L359.5,876.3 L358.7,875.4 L358.0,874.3 L357.4,873.0 L357.1,871.8 L357.0,870.6 L357.1,869.5 L357.5,868.6 L358.0,868.0 L358.8,867.7 L359.6,867.8 L360.5,868.2 L361.5,868.9 L362.3,869.8 L363.0,870.9 L363.6,872.2 L363.9,873.4 Z" fill="none" stroke="#000" stroke-width="2.30" />
<path d="M361.3,870.4 L362.5,873.9" fill="none" stroke="#000" stroke-width="1.00" />
<path d="M360.6,886.5 L360.7,887.7 L360.6,888.8 L360.2,889.7 L359.7,890.3 L358.9,890.6 L358.1,890.5 L357.2,890.1 L356.2,889.4 L355.4,888.5 L354.7,887.4 L354.1,886.1 L353.8,884.9 L353.7,883.7 L353.8,882.6 L354.2,881.7 L354.7,881.1 L355.5,880.8 L356.3,880.9 L357.2,881.3 L358.2,882.0 L359.0,882.9 L359.7,884.0 L360.3,885.3 L360.6,886.5 Z" fill="none" stroke="#000" stroke-width="2.30" />
<path d="M358.0,883.5 L359.2,887.0" fill="none" stroke="#000" stroke-width="1.00" />
<path d="M322.8,904.6 L322.9,905.8 L322.8,906.9 L322.4,907.8 L321.9,908.4 L321.1,908.7 L320.3,908.6 L319.4,908.2 L318.4,907.5 L317.6,906.6 L316.9,905.5 L316.3,904.2 L316.0,903.0 L315.9,901.8 L316.0,900.7 L316.4,899.8 L316.9,899.2 L317.7,898.9 L318.5,899.0 L319.4,899.4 L320.4,900.1 L321.2,901.0 L321.9,902.1 L322.5,903.4 L322.8,904.6 Z" fill="none" stroke="#000" stroke-width="2.30" />
<path d="M320.2,901.6 L321.4,905.1" fill="none" stroke="#000" stroke-width="1.00" />
<path d="M324.4,917.8 L324.5,919.0 L324.4,920.1 L324.0,921.0 L323.5,921.6 L322.7,921.9 L321.9,921.8 L321.0,921.4 L320.0,920.7 L319.2,919.8 L318.5,918.7 L317.9,917.4 L317.6,916.2 L317.5,915.0 L317.6,913.9 L318.0,913.0 L318.5,912.4 L319.3,912.1 L320.1,912.2 L321.0,912.6 L322.0,913.3 L322.8,914.2 L323.5,915.3 L324.1,916.6 L324.4,917.8 Z" fill="none" stroke="#000" stroke-width="2.30" />
<path d="M321.8,914.8 L323.0,918.3" fill="none" stroke="#000" stroke-width="1.00" />
<path d="M326.1,934.1 L326.2,935.3 L326.1,936.4 L325.7,937.3 L325.2,937.9 L324.4,938.2 L323.6,938.1 L322.7,937.7 L321.7,937.0 L320.9,936.1 L320.2,935.0 L319.6,933.7 L319.3,932.5 L319.2,931.3 L319.3,930.2 L319.7,929.3 L320.2,928.7 L321.0,928.4 L321.8,928.5 L322.7,928.9 L323.7,929.6 L324.5,930.5 L325.2,931.6 L325.8,932.9 L326.1,934.1 Z" fill="none" stroke="#000" stroke-width="2.30" />
<path d="M323.5,931.1 L324.7,934.6" fill="none" stroke="#000" stroke-width="1.00" />
<path d="M436.2,885.5 L436.3,886.7 L436.2,887.8 L435.8,888.7 L435.3,889.3 L434.5,889.6 L433.7,889.5 L432.8,889.1 L431.8,888.4 L431.0,887.5 L430.3,886.4 L429.7,885.1 L429.4,883.9 L429.3,882.7 L429.4,881.6 L429.8,880.7 L430.3,880.1 L431.1,879.8 L431.9,879.9 L432.8,880.3 L433.8,881.0 L434.6,881.9 L435.3,883.0 L435.9,884.3 L436.2,885.5 Z" fill="none" stroke="#000" stroke-width="2.30" />
<path d="M433.6,882.5 L434.8,886.0" fill="none" stroke="#000" stroke-width="1.00" />
<path d="M450.4,882.3 L450.5,883.5 L450.4,884.6 L450.0,885.5 L449.5,886.1 L448.7,886.4 L447.9,886.3 L447.0,885.9 L446.0,885.2 L445.2,884.3 L444.5,883.2 L443.9,881.9 L443.6,880.7 L443.5,879.5 L443.6,878.4 L444.0,877.5 L444.5,876.9 L445.3,876.6 L446.1,876.7 L447.0,877.1 L448.0,877.8 L448.8,878.7 L449.5,879.8 L450.1,881.1 L450.4,882.3 Z" fill="none" stroke="#000" stroke-width="2.30" />
<path d="M447.8,879.3 L449.0,882.8" fill="none" stroke="#000" stroke-width="1.00" />
<path d="M461.4,877.8 L461.5,879.0 L461.4,880.1 L461.0,881.0 L460.5,881.6 L459.7,881.9 L458.9,881.8 L458.0,881.4 L457.0,880.7 L456.2,879.8 L455.5,878.7 L454.9,877.4 L454.6,876.2 L454.5,875.0 L454.6,873.9 L455.0,873.0 L455.5,872.4 L456.3,872.1 L457.1,872.2 L458.0,872.6 L459.0,873.3 L459.8,874.2 L460.5,875.3 L461.1,876.6 L461.4,877.8 Z" fill="none" stroke="#000" stroke-width="2.30" />
<path d="M458.8,874.8 L460.0,878.3" fill="none" stroke="#000" stroke-width="1.00" />
<path d="M474.4,906.3 L474.5,907.5 L474.4,908.6 L474.0,909.5 L473.5,910.1 L472.7,910.4 L471.9,910.3 L471.0,909.9 L470.0,909.2 L469.2,908.3 L468.5,907.2 L467.9,905.9 L467.6,904.7 L467.5,903.5 L467.6,902.4 L468.0,901.5 L468.5,900.9 L469.3,900.6 L470.1,900.7 L471.0,901.1 L472.0,901.8 L472.8,902.7 L473.5,903.8 L474.1,905.1 L474.4,906.3 Z" fill="none" stroke="#000" stroke-width="2.30" />
<path d="M471.8,903.3 L473.0,906.8" fill="none" stroke="#000" stroke-width="1.00" />
<path d="M487.4,907.4 L487.5,908.6 L487.4,909.7 L487.0,910.6 L486.5,911.2 L485.7,911.5 L484.9,911.4 L484.0,911.0 L483.0,910.3 L482.2,909.4 L481.5,908.3 L480.9,907.0 L480.6,905.8 L480.5,904.6 L480.6,903.5 L481.0,902.6 L481.5,902.0 L482.3,901.7 L483.1,901.8 L484.0,902.2 L485.0,902.9 L485.8,903.8 L486.5,904.9 L487.1,906.2 L487.4,907.4 Z" fill="none" stroke="#000" stroke-width="2.30" />
<path d="M484.8,904.4 L486.0,907.9" fill="none" stroke="#000" stroke-width="1.00" />
<path d="M501.9,908.5 L502.0,909.7 L501.9,910.8 L501.5,911.7 L501.0,912.3 L500.2,912.6 L499.4,912.5 L498.5,912.1 L497.5,911.4 L496.7,910.5 L496.0,909.4 L495.4,908.1 L495.1,906.9 L495.0,905.7 L495.1,904.6 L495.5,903.7 L496.0,903.1 L496.8,902.8 L497.6,902.9 L498.5,903.3 L499.5,904.0 L500.3,904.9 L501.0,906.0 L501.6,907.3 L501.9,908.5 Z" fill="none" stroke="#000" stroke-width="2.30" />
<path d="M499.3,905.5 L500.5,909.0" fill="none" stroke="#000" stroke-width="1.00" />
<path d="M565.4,1018.8 L565.5,1020.0 L565.4,1021.1 L565.0,1022.0 L564.5,1022.6 L563.7,1022.9 L562.9,1022.8 L562.0,1022.4 L561.0,1021.7 L560.2,1020.8 L559.5,1019.7 L558.9,1018.4 L558.6,1017.2 L558.5,1016.0 L558.6,1014.9 L559.0,1014.0 L559.5,1013.4 L560.3,1013.1 L561.1,1013.2 L562.0,1013.6 L563.0,1014.3 L563.8,1015.2 L564.5,1016.3 L565.1,1017.6 L565.4,1018.8 Z" fill="none" stroke="#000" stroke-width="2.30" />
<path d="M562.8,1015.8 L564.0,1019.3" fill="none" stroke="#000" stroke-width="1.00" />
<path d="M579.4,1030.8 L579.5,1032.0 L579.4,1033.1 L579.0,1034.0 L578.5,1034.6 L577.7,1034.9 L576.9,1034.8 L576.0,1034.4 L575.0,1033.7 L574.2,1032.8 L573.5,1031.7 L572.9,1030.4 L572.6,1029.2 L572.5,1028.0 L572.6,1026.9 L573.0,1026.0 L573.5,1025.4 L574.3,1025.1 L575.1,1025.2 L576.0,1025.6 L577.0,1026.3 L577.8,1027.2 L578.5,1028.3 L579.1,1029.6 L579.4,1030.8 Z" fill="none" stroke="#000" stroke-width="2.30" />
<path d="M576.8,1027.8 L578.0,1031.3" fill="none" stroke="#000" stroke-width="1.00" />
<path d="M593.9,1042.8 L594.0,1044.0 L593.9,1045.1 L593.5,1046.0 L593.0,1046.6 L592.2,1046.9 L591.4,1046.8 L590.5,1046.4 L589.5,1045.7 L588.7,1044.8 L588.0,1043.7 L587.4,1042.4 L587.1,1041.2 L587.0,1040.0 L587.1,1038.9 L587.5,1038.0 L588.0,1037.4 L588.8,1037.1 L589.6,1037.2 L590.5,1037.6 L591.5,1038.3 L592.3,1039.2 L593.0,1040.3 L593.6,1041.6 L593.9,1042.8 Z" fill="none" stroke="#000" stroke-width="2.30" />
<path d="M591.3,1039.8 L592.5,1043.3" fill="none" stroke="#000" stroke-width="1.00" />
<path d="M590.6,1104.8 L590.7,1106.0 L590.6,1107.1 L590.2,1108.0 L589.7,1108.6 L588.9,1108.9 L588.1,1108.8 L587.2,1108.4 L586.2,1107.7 L585.4,1106.8 L584.7,1105.7 L584.1,1104.4 L583.8,1103.2 L583.7,1102.0 L583.8,1100.9 L584.2,1100.0 L584.7,1099.4 L585.5,1099.1 L586.3,1099.2 L587.2,1099.6 L588.2,1100.3 L589.0,1101.2 L589.7,1102.3 L590.3,1103.6 L590.6,1104.8 Z" fill="none" stroke="#000" stroke-width="2.30" />
<path d="M588.0,1101.8 L589.2,1105.3" fill="none" stroke="#000" stroke-width="1.00" />
<path d="M600.4,1119.8 L600.5,1121.0 L600.4,1122.1 L600.0,1123.0 L599.5,1123.6 L598.7,1123.9 L597.9,1123.8 L597.0,1123.4 L596.0,1122.7 L595.2,1121.8 L594.5,1120.7 L593.9,1119.4 L593.6,1118.2 L593.5,1117.0 L593.6,1115.9 L594.0,1115.0 L594.5,1114.4 L595.3,1114.1 L596.1,1114.2 L597.0,1114.6 L598.0,1115.3 L598.8,1116.2 L599.5,1117.3 L600.1,1118.6 L600.4,1119.8 Z" fill="none" stroke="#000" stroke-width="2.30" />
<path d="M597.8,1116.8 L599.0,1120.3" fill="none" stroke="#000" stroke-width="1.00" />
<path d="M610.3,1136.2 L610.4,1137.4 L610.3,1138.5 L609.9,1139.4 L609.4,1140.0 L608.6,1140.3 L607.8,1140.2 L606.9,1139.8 L605.9,1139.1 L605.1,1138.2 L604.4,1137.1 L603.8,1135.8 L603.5,1134.6 L603.4,1133.4 L603.5,1132.3 L603.9,1131.4 L604.4,1130.8 L605.2,1130.5 L606.0,1130.6 L606.9,1131.0 L607.9,1131.7 L608.7,1132.6 L609.4,1133.7 L610.0,1135.0 L610.3,1136.2 Z" fill="none" stroke="#000" stroke-width="2.30" />
<path d="M607.7,1133.2 L608.9,1136.7" fill="none" stroke="#000" stroke-width="1.00" />
<path d="M588.9,1177.2 L589.0,1178.4 L588.9,1179.5 L588.5,1180.4 L588.0,1181.0 L587.2,1181.3 L586.4,1181.2 L585.5,1180.8 L584.5,1180.1 L583.7,1179.2 L583.0,1178.1 L582.4,1176.8 L582.1,1175.6 L582.0,1174.4 L582.1,1173.3 L582.5,1172.4 L583.0,1171.8 L583.8,1171.5 L584.6,1171.6 L585.5,1172.0 L586.5,1172.7 L587.3,1173.6 L588.0,1174.7 L588.6,1176.0 L588.9,1177.2 Z" fill="none" stroke="#000" stroke-width="2.30" />
<path d="M586.3,1174.2 L587.5,1177.7" fill="none" stroke="#000" stroke-width="1.00" />
<path d="M592.2,1193.7 L592.3,1194.9 L592.2,1196.0 L591.8,1196.9 L591.3,1197.5 L590.5,1197.8 L589.7,1197.7 L588.8,1197.3 L587.8,1196.6 L587.0,1195.7 L586.3,1194.6 L585.7,1193.3 L585.4,1192.1 L585.3,1190.9 L585.4,1189.8 L585.8,1188.9 L586.3,1188.3 L587.1,1188.0 L587.9,1188.1 L588.8,1188.5 L589.8,1189.2 L590.6,1190.1 L591.3,1191.2 L591.9,1192.5 L592.2,1193.7 Z" fill="none" stroke="#000" stroke-width="2.30" />
<path d="M589.6,1190.7 L590.8,1194.2" fill="none" stroke="#000" stroke-width="1.00" />
<path d="M597.1,1210.1 L597.2,1211.3 L597.1,1212.4 L596.7,1213.3 L596.2,1213.9 L595.4,1214.2 L594.6,1214.1 L593.7,1213.7 L592.7,1213.0 L591.9,1212.1 L591.2,1211.0 L590.6,1209.7 L590.3,1208.5 L590.2,1207.3 L590.3,1206.2 L590.7,1205.3 L591.2,1204.7 L592.0,1204.4 L592.8,1204.5 L593.7,1204.9 L594.7,1205.6 L595.5,1206.5 L596.2,1207.6 L596.8,1208.9 L597.1,1210.1 Z" fill="none" stroke="#000" stroke-width="2.30" />
<path d="M594.5,1207.1 L595.7,1210.6" fill="none" stroke="#000" stroke-width="1.00" />
<path d="M542.9,1229.8 L543.0,1231.0 L542.9,1232.1 L542.5,1233.0 L542.0,1233.6 L541.2,1233.9 L540.4,1233.8 L539.5,1233.4 L538.5,1232.7 L537.7,1231.8 L537.0,1230.7 L536.4,1229.4 L536.1,1228.2 L536.0,1227.0 L536.1,1225.9 L536.5,1225.0 L537.0,1224.4 L537.8,1224.1 L538.6,1224.2 L539.5,1224.6 L540.5,1225.3 L541.3,1226.2 L542.0,1227.3 L542.6,1228.6 L542.9,1229.8 Z" fill="none" stroke="#000" stroke-width="2.30" />
<path d="M540.3,1226.8 L541.5,1230.3" fill="none" stroke="#000" stroke-width="1.00" />
<path d="M539.6,1244.6 L539.7,1245.8 L539.6,1246.9 L539.2,1247.8 L538.7,1248.4 L537.9,1248.7 L537.1,1248.6 L536.2,1248.2 L535.2,1247.5 L534.4,1246.6 L533.7,1245.5 L533.1,1244.2 L532.8,1243.0 L532.7,1241.8 L532.8,1240.7 L533.2,1239.8 L533.7,1239.2 L534.5,1238.9 L535.3,1239.0 L536.2,1239.4 L537.2,1240.1 L538.0,1241.0 L538.7,1242.1 L539.3,1243.4 L539.6,1244.6 Z" fill="none" stroke="#000" stroke-width="2.30" />
<path d="M537.0,1241.6 L538.2,1245.1" fill="none" stroke="#000" stroke-width="1.00" />
<path d="M534.7,1259.4 L534.8,1260.6 L534.7,1261.7 L534.3,1262.6 L533.8,1263.2 L533.0,1263.5 L532.2,1263.4 L531.3,1263.0 L530.3,1262.3 L529.5,1261.4 L528.8,1260.3 L528.2,1259.0 L527.9,1257.8 L527.8,1256.6 L527.9,1255.5 L528.3,1254.6 L528.8,1254.0 L529.6,1253.7 L530.4,1253.8 L531.3,1254.2 L532.3,1254.9 L533.1,1255.8 L533.8,1256.9 L534.4,1258.2 L534.7,1259.4 Z" fill="none" stroke="#000" stroke-width="2.30" />
<path d="M532.1,1256.4 L533.3,1259.9" fill="none" stroke="#000" stroke-width="1.00" />
<path d="M385.2,1175.6 L385.3,1176.8 L385.2,1177.9 L384.8,1178.8 L384.3,1179.4 L383.5,1179.7 L382.7,1179.6 L381.8,1179.2 L380.8,1178.5 L380.0,1177.6 L379.3,1176.5 L378.7,1175.2 L378.4,1174.0 L378.3,1172.8 L378.4,1171.7 L378.8,1170.8 L379.3,1170.2 L380.1,1169.9 L380.9,1170.0 L381.8,1170.4 L382.8,1171.1 L383.6,1172.0 L384.3,1173.1 L384.9,1174.4 L385.2,1175.6 Z" fill="none" stroke="#000" stroke-width="2.30" />
<path d="M382.6,1172.6 L383.8,1176.1" fill="none" stroke="#000" stroke-width="1.00" />
<path d="M398.4,1180.5 L398.5,1181.7 L398.4,1182.8 L398.0,1183.7 L397.5,1184.3 L396.7,1184.6 L395.9,1184.5 L395.0,1184.1 L394.0,1183.4 L393.2,1182.5 L392.5,1181.4 L391.9,1180.1 L391.6,1178.9 L391.5,1177.7 L391.6,1176.6 L392.0,1175.7 L392.5,1175.1 L393.3,1174.8 L394.1,1174.9 L395.0,1175.3 L396.0,1176.0 L396.8,1176.9 L397.5,1178.0 L398.1,1179.3 L398.4,1180.5 Z" fill="none" stroke="#000" stroke-width="2.30" />
<path d="M395.8,1177.5 L397.0,1181.0" fill="none" stroke="#000" stroke-width="1.00" />
<path d="M413.2,1185.4 L413.3,1186.6 L413.2,1187.7 L412.8,1188.6 L412.3,1189.2 L411.5,1189.5 L410.7,1189.4 L409.8,1189.0 L408.8,1188.3 L408.0,1187.4 L407.3,1186.3 L406.7,1185.0 L406.4,1183.8 L406.3,1182.6 L406.4,1181.5 L406.8,1180.6 L407.3,1180.0 L408.1,1179.7 L408.9,1179.8 L409.8,1180.2 L410.8,1180.9 L411.6,1181.8 L412.3,1182.9 L412.9,1184.2 L413.2,1185.4 Z" fill="none" stroke="#000" stroke-width="2.30" />
<path d="M410.6,1182.4 L411.8,1185.9" fill="none" stroke="#000" stroke-width="1.00" />
<path d="M326.1,1075.4 L326.2,1076.6 L326.1,1077.7 L325.7,1078.6 L325.2,1079.2 L324.4,1079.5 L323.6,1079.4 L322.7,1079.0 L321.7,1078.3 L320.9,1077.4 L320.2,1076.3 L319.6,1075.0 L319.3,1073.8 L319.2,1072.6 L319.3,1071.5 L319.7,1070.6 L320.2,1070.0 L321.0,1069.7 L321.8,1069.8 L322.7,1070.2 L323.7,1070.9 L324.5,1071.8 L325.2,1072.9 L325.8,1074.2 L326.1,1075.4 Z" fill="none" stroke="#000" stroke-width="2.30" />
<path d="M323.5,1072.4 L324.7,1075.9" fill="none" stroke="#000" stroke-width="1.00" />
<path d="M337.6,1085.3 L337.7,1086.5 L337.6,1087.6 L337.2,1088.5 L336.7,1089.1 L335.9,1089.4 L335.1,1089.3 L334.2,1088.9 L333.2,1088.2 L332.4,1087.3 L331.7,1086.2 L331.1,1084.9 L330.8,1083.7 L330.7,1082.5 L330.8,1081.4 L331.2,1080.5 L331.7,1079.9 L332.5,1079.6 L333.3,1079.7 L334.2,1080.1 L335.2,1080.8 L336.0,1081.7 L336.7,1082.8 L337.3,1084.1 L337.6,1085.3 Z" fill="none" stroke="#000" stroke-width="2.30" />
<path d="M335.0,1082.3 L336.2,1085.8" fill="none" stroke="#000" stroke-width="1.00" />
<path d="M349.1,1096.8 L349.2,1098.0 L349.1,1099.1 L348.7,1100.0 L348.2,1100.6 L347.4,1100.9 L346.6,1100.8 L345.7,1100.4 L344.7,1099.7 L343.9,1098.8 L343.2,1097.7 L342.6,1096.4 L342.3,1095.2 L342.2,1094.0 L342.3,1092.9 L342.7,1092.0 L343.2,1091.4 L344.0,1091.1 L344.8,1091.2 L345.7,1091.6 L346.7,1092.3 L347.5,1093.2 L348.2,1094.3 L348.8,1095.6 L349.1,1096.8 Z" fill="none" stroke="#000" stroke-width="2.30" />
<path d="M346.5,1093.8 L347.7,1097.3" fill="none" stroke="#000" stroke-width="1.00" />
<path d="M771.2,970.9 L771.8,974.5 L772.3,978.1 L772.8,981.7 L773.1,985.2 L773.3,988.7 L773.5,992.1 L773.5,995.5 L773.4,998.9 L773.3,1002.2 L773.0,1005.4 L772.6,1008.6 L772.2,1011.7 L771.6,1014.7 L771.0,1017.6 L770.3,1020.5 L769.4,1023.3 L768.5,1026.0 L767.5,1028.6 L766.4,1031.1 L765.2,1033.5 L763.9,1035.8 L762.5,1038.0 L761.1,1040.1 L759.5,1042.1 L757.9,1044.0 L756.2,1045.8 L754.4,1047.5 L752.6,1049.0 L750.7,1050.4 L748.7,1051.8 L746.6,1052.9 L744.5,1054.0 L742.3,1054.9 L740.1,1055.8 L737.8,1056.4 L735.4,1057.0 L733.0,1057.4 L730.5,1057.7 L728.0,1057.9 L725.5,1058.0 L722.9,1057.9 L720.3,1057.7 L717.6,1057.3 L715.0,1056.9 L712.3,1056.3 L709.5,1055.5 L706.8,1054.7 L704.0,1053.7 L701.2,1052.6 L698.4,1051.4 L695.6,1050.0 L692.8,1048.6 L690.0,1047.0 L687.3,1045.3 L684.5,1043.5 L681.7,1041.6 L678.9,1039.5 L676.2,1037.4 L673.5,1035.1 L670.8,1032.8 L668.1,1030.4 L665.4,1027.8 L662.8,1025.2 L660.3,1022.5 L657.7,1019.7 L655.3,1016.8 L652.8,1013.8 L650.4,1010.8 L648.1,1007.6 L645.8,1004.5 L643.6,1001.2 L641.4,997.9 L639.3,994.5 L637.3,991.1 L635.3,987.7 L633.4,984.2 L631.6,980.6 L629.8,977.0 L628.2,973.4 L626.6,969.8 L625.1,966.1 L623.6,962.4 L622.3,958.8 L621.0,955.1 L619.9,951.4 L618.8,947.7 L617.8,944.0 L616.9,940.3 L616.1,936.6 L615.4,932.9 L614.8,929.3 L614.3,925.7 L613.8,922.1 L613.5,918.6 L613.3,915.1 L613.1,911.7 L613.1,908.3 L613.2,904.9 L613.3,901.6 L613.6,898.4 L614.0,895.2 L614.4,892.1 L615.0,889.1 L615.6,886.2 L616.3,883.3 L617.2,880.5 L618.1,877.8 L619.1,875.2 L620.2,872.7 L621.4,870.3 L622.7,868.0 L624.1,865.8 L625.5,863.7 L627.1,861.7 L628.7,859.8 L630.4,858.0 L632.2,856.3 L634.0,854.8 L635.9,853.4 L637.9,852.0 L640.0,850.9 L642.1,849.8 L644.3,848.9 L646.5,848.0 L648.8,847.4 L651.2,846.8 L653.6,846.4 L656.1,846.1 L658.6,845.9 L661.1,845.8 L663.7,845.9 L666.3,846.1 L669.0,846.5 L671.6,846.9 L674.3,847.5 L677.1,848.3 L679.8,849.1 L682.6,850.1 L685.4,851.2 L688.2,852.4 L691.0,853.8 L693.8,855.2 L696.6,856.8 L699.3,858.5 L702.1,860.3 L704.9,862.2 L707.7,864.3 L710.4,866.4 L713.1,868.7 L715.8,871.0 L718.5,873.4 L721.2,876.0 L723.8,878.6 L726.3,881.3 L728.9,884.1 L731.3,887.0 L733.8,890.0 L736.2,893.0 L738.5,896.2 L740.8,899.3 L743.0,902.6 L745.2,905.9 L747.3,909.3 L749.3,912.7 L751.3,916.1 L753.2,919.6 L755.0,923.2 L756.8,926.8 L758.4,930.4 L760.0,934.0 L761.5,937.7 L763.0,941.4 L764.3,945.0 L765.6,948.7 L766.7,952.4 L767.8,956.1 L768.8,959.8 L769.7,963.5 L770.5,967.2 L771.2,970.9 Z" fill="none" stroke="#000" stroke-width="2.60" />
<path d="M699.3,1049.4 L696.6,1048.1 L693.9,1046.6 L691.1,1045.1 L688.4,1043.4 L685.6,1041.6 L682.9,1039.8 L680.2,1037.8 L677.5,1035.7 L674.9,1033.5 L672.2,1031.2 L669.6,1028.8 L667.0,1026.3 L664.4,1023.7 L661.9,1021.1 L659.4,1018.3 L657.0,1015.5 L654.6,1012.6 L652.3,1009.6 L650.0,1006.5 L647.7,1003.4 L645.6,1000.2 L643.4,997.0 L641.4,993.7 L639.4,990.3 L637.5,986.9 L635.6,983.5 L633.8,980.0 L632.1,976.5 L630.5,973.0 L628.9,969.4 L627.4,965.8 L626.0,962.2 L624.7,958.6 L623.5,955.0 L622.3,951.4 L621.3,947.7 L620.3,944.1 L619.4,940.5 L618.6,936.9 L617.9,933.3 L617.3,929.8 L616.8,926.2 L616.4,922.7 L616.1,919.3 L615.9,915.8 L615.7,912.5 L615.7,909.1 L615.8,905.9 L615.9,902.6 L616.2,899.5 L616.5,896.4 L617.0,893.3 L617.5,890.4 L618.2,887.5 L618.9,884.7 L619.7,882.0 L620.6,879.3 L621.6,876.8 L622.7,874.3 L623.9,871.9 L625.1,869.7 L626.5,867.5 L627.9,865.4 L629.4,863.5 L631.0,861.6 L632.7,859.9 L634.4,858.2 L636.2,856.7 L638.1,855.3 L640.0,854.0 L642.1,852.9 L644.1,851.8 L646.3,850.9 L648.5,850.1 L650.7,849.4 L653.0,848.9 L655.4,848.5 L657.8,848.2 L660.3,848.0 L662.7,848.0" fill="none" stroke="#000" stroke-width="1.00" />
<path d="M777.4,972.4 L777.6,973.4 L777.8,974.3 L778.0,975.3 L778.1,976.3 L778.3,977.3 L778.4,978.2 L778.5,979.2 L778.7,980.2 L778.8,981.2 L778.9,982.1 L779.0,983.1 L779.1,984.0 L779.2,985.0 L779.3,986.0 L779.4,986.9 L779.5,987.9 L779.5,988.8 L779.6,989.8 L779.7,990.7 L779.7,991.6 L779.8,992.6 L779.8,993.5 L779.8,994.4 L779.9,995.4 L779.9,996.3 L779.9,997.2 L779.9,998.1 L779.9,999.0 L779.9,999.9 L779.9,1000.8 L779.9,1001.7 L779.8,1002.6 L779.8,1003.5 L779.8,1004.4 L779.7,1005.3 L779.7,1006.2 L779.6,1007.1 L779.5,1007.9 L779.5,1008.8 L779.4,1009.7 L779.3,1010.5 L779.2,1011.4 L779.1,1012.3 L779.0,1013.1 L778.9,1013.9 L778.8,1014.8 L778.6,1015.6 L778.5,1016.4 L778.4,1017.3 L778.2,1018.1 L778.1,1018.9 L777.9,1019.7 L777.7,1020.5 L777.6,1021.3 L777.4,1022.1 L777.2,1022.9 L777.0,1023.7 L776.8,1024.4 L776.6,1025.2 L776.4,1026.0 L776.2,1026.7 L776.0,1027.5 L775.7,1028.2 L775.5,1029.0 L775.3,1029.7 L775.0,1030.5 L774.8,1031.2 L774.5,1031.9 L774.2,1032.6 L774.0,1033.3 L773.7,1034.0 L773.4,1034.7 L773.1,1035.4 L772.8,1036.1 L772.5,1036.8 L772.2,1037.4 L771.9,1038.1 L771.6,1038.7 L771.3,1039.4 L770.9,1040.0 L770.6,1040.7 L770.2,1041.3 L771.1,1043.4 L772.2,1045.7 L773.5,1048.3 L774.9,1051.1 L776.3,1054.1 L777.9,1057.1 L779.4,1060.3 L779.8,1062.0 L780.0,1063.5 L780.0,1064.9 L780.0,1066.1 L779.8,1067.1 L779.6,1068.1 L779.2,1069.0 L778.8,1069.8 L778.4,1070.5 L777.8,1071.1 L777.2,1071.6 L776.6,1072.0 L775.8,1072.3 L775.0,1072.5 L774.1,1072.6 L773.2,1072.5 L772.1,1072.3 L771.0,1071.9 L769.6,1071.1 L767.2,1068.9 L765.0,1066.7 L762.9,1064.6 L760.9,1062.6 L759.0,1060.7 L757.2,1059.2 L755.8,1058.0 L755.3,1058.3 L754.7,1058.7 L754.2,1059.0 L753.6,1059.4 L753.1,1059.7 L752.6,1060.1 L752.0,1060.4 L751.4,1060.7 L750.9,1061.0 L750.3,1061.3 L749.7,1061.6 L749.2,1061.9 L748.6,1062.2 L748.0,1062.4 L747.4,1062.7 L746.8,1062.9 L746.2,1063.2 L745.6,1063.4 L745.0,1063.6 L744.4,1063.9 L743.8,1064.1 L743.2,1064.3 L742.6,1064.5 L741.9,1064.6 L741.3,1064.8 L740.7,1065.0 L740.1,1065.1 L739.4,1065.3 L738.8,1065.4 L738.1,1065.5 L737.5,1065.7 L736.8,1065.8 L736.2,1065.9 L735.5,1066.0 L734.9,1066.1 L734.2,1066.1 L733.5,1066.2 L732.8,1066.3 L732.2,1066.3 L731.5,1066.4 L730.8,1066.4 L730.1,1066.4 L729.5,1066.4 L728.8,1066.4 L728.1,1066.4 L727.4,1066.4 L726.7,1066.4 L726.0,1066.4 L725.3,1066.4 L724.6,1066.3 L723.9,1066.3 L723.2,1066.2 L722.5,1066.1 L721.7,1066.0 L721.0,1066.0 L720.3,1065.9 L719.6,1065.8 L718.9,1065.6 L718.1,1065.5 L717.4,1065.4 L716.7,1065.2 L716.0,1065.1 L715.2,1064.9 L714.5,1064.8 L713.8,1064.6 L713.0,1064.4 L712.3,1064.2 L711.6,1064.0 L710.8,1063.8 L710.1,1063.6 L709.3,1063.4 L708.6,1063.1 L707.9,1062.9 L707.1,1062.6 L706.4,1062.4 L705.6,1062.1 L704.9,1061.8 L704.1,1061.6 L703.4,1061.3 L702.6,1061.0 L701.9,1060.7 L701.1,1060.3 L700.4,1060.0 L699.6,1059.7 L698.8,1059.3 L698.1,1059.0 L697.3,1058.6 L696.6,1060.0 L695.9,1061.6 L695.2,1063.5 L694.4,1065.6 L693.6,1067.7 L692.7,1070.0 L691.9,1072.3 L691.0,1073.0 L690.0,1073.4 L689.1,1073.6 L688.2,1073.7 L687.3,1073.6 L686.4,1073.4 L685.4,1073.1 L684.5,1072.7 L683.6,1072.2 L682.7,1071.6 L681.8,1070.9 L680.9,1070.1 L680.1,1069.2 L679.2,1068.2 L678.4,1067.1 L677.6,1065.9 L676.8,1064.6 L676.0,1063.0 L675.4,1061.2 L674.9,1058.0 L674.5,1055.0 L674.2,1052.1 L673.8,1049.3 L673.4,1046.7 L673.0,1044.4 L672.6,1042.4 L671.9,1041.8 L671.1,1041.2 L670.4,1040.5 L669.7,1039.9 L669.0,1039.3 L668.2,1038.6 L667.5,1038.0 L666.8,1037.3 L666.1,1036.6 L665.4,1036.0 L664.6,1035.3 L663.9,1034.6 L663.2,1033.9 L662.5,1033.2 L661.8,1032.5 L661.1,1031.8 L660.4,1031.0 L659.7,1030.3 L659.0,1029.6 L658.3,1028.9 L657.6,1028.1 L656.9,1027.4 L656.3,1026.6 L655.6,1025.8 L654.9,1025.1 L654.2,1024.3 L653.5,1023.5 L652.9,1022.7 L652.2,1022.0 L651.5,1021.2 L650.9,1020.4 L650.2,1019.6 L649.6,1018.8 L648.9,1017.9 L648.3,1017.1 L647.6,1016.3 L647.0,1015.5 L646.4,1014.6 L645.7,1013.8 L645.1,1012.9 L644.5,1012.1 L643.8,1011.2 L643.2,1010.4 L642.6,1009.5 L642.0,1008.7 L641.4,1007.8 L640.8,1006.9 L640.2,1006.0 L639.6,1005.2 L639.0,1004.3 L638.4,1003.4 L637.8,1002.5 L637.3,1001.6 L636.7,1000.7 L636.1,999.8 L635.5,998.9 L635.0,998.0 L634.4,997.0 L633.9,996.1 L633.3,995.2 L632.8,994.3 L632.2,993.3 L631.7,992.4 L631.2,991.5 L630.7,990.5 L630.1,989.6 L629.6,988.6 L629.1,987.7 L628.6,986.7 L628.1,985.8 L627.6,984.8 L627.1,983.9 L626.6,982.9 L626.2,981.9 L625.7,981.0 L625.2,980.0 L624.8,979.0 L624.3,978.1 L623.8,977.1 L623.4,976.1 L622.9,975.1 L622.5,974.2 L622.1,973.2 L621.6,972.2 L621.2,971.2 L620.8,970.2 L620.4,969.2 L618.8,968.5 L617.0,967.8 L615.0,967.1 L612.8,966.4 L610.5,965.6 L608.2,964.8 L605.7,963.9 L604.4,962.9 L603.3,961.8 L602.4,960.7 L601.5,959.5 L600.8,958.4 L600.1,957.2 L599.5,956.0 L599.0,954.8 L598.6,953.6 L598.2,952.4 L597.9,951.2 L597.7,950.0 L597.5,948.8 L597.5,947.6 L597.5,946.4 L597.7,945.3 L598.0,944.2 L598.4,943.0 L599.1,942.0 L601.0,941.1 L602.8,940.2 L604.6,939.4 L606.2,938.6 L607.8,937.9 L609.1,937.1 L610.1,936.4 L609.9,935.4 L609.7,934.4 L609.5,933.4 L609.3,932.4 L609.2,931.4 L609.0,930.4 L608.8,929.5 L608.6,928.5 L608.5,927.5 L608.3,926.5 L608.2,925.6 L608.1,924.6 L607.9,923.6 L607.8,922.6 L607.7,921.7 L607.6,920.7 L607.5,919.8 L607.4,918.8 L607.3,917.8 L607.2,916.9 L607.1,915.9 L607.1,915.0 L607.0,914.0 L606.9,913.1 L606.9,912.2 L606.8,911.2 L606.8,910.3 L606.8,909.4 L606.7,908.4 L606.7,907.5 L606.7,906.6 L606.7,905.7 L606.7,904.8 L606.7,903.9 L606.7,903.0 L606.7,902.1 L606.8,901.2 L606.8,900.3 L606.8,899.4 L606.9,898.5 L606.9,897.6 L607.0,896.7 L607.1,895.9 L607.1,895.0 L607.2,894.1 L607.3,893.3 L607.4,892.4 L607.5,891.5 L607.6,890.7 L607.7,889.9 L607.8,889.0 L608.0,888.2 L608.1,887.4 L608.2,886.5 L608.4,885.7 L608.5,884.9 L608.7,884.1 L608.9,883.3 L609.0,882.5 L609.2,881.7 L609.4,880.9 L609.6,880.1 L609.8,879.4 L610.0,878.6 L610.2,877.8 L610.4,877.1 L610.6,876.3 L610.9,875.6 L611.1,874.8 L611.3,874.1 L611.6,873.3 L611.8,872.6 L612.1,871.9 L612.4,871.2 L612.6,870.5 L612.9,869.8 L613.2,869.1 L613.5,868.4 L613.8,867.7 L614.1,867.0 L614.4,866.4 L614.7,865.7 L615.0,865.1 L615.3,864.4 L615.7,863.8 L616.0,863.1 L616.4,862.5 L615.5,860.4 L614.4,858.1 L613.1,855.5 L611.7,852.7 L610.3,849.7 L608.7,846.7 L607.2,843.5 L606.8,841.8 L606.6,840.3 L606.6,838.9 L606.6,837.7 L606.8,836.7 L607.0,835.7 L607.4,834.8 L607.8,834.0 L608.2,833.3 L608.8,832.7 L609.4,832.2 L610.0,831.8 L610.8,831.5 L611.6,831.3 L612.5,831.2 L613.4,831.3 L614.5,831.5 L615.6,831.9 L617.0,832.7 L619.4,834.9 L621.6,837.1 L623.7,839.2 L625.7,841.2 L627.6,843.1 L629.4,844.6 L630.8,845.8 L631.3,845.5 L631.9,845.1 L632.4,844.8 L633.0,844.4 L633.5,844.1 L634.0,843.7 L634.6,843.4 L635.2,843.1 L635.7,842.8 L636.3,842.5 L636.9,842.2 L637.4,841.9 L638.0,841.6 L638.6,841.4 L639.2,841.1 L639.8,840.9 L640.4,840.6 L641.0,840.4 L641.6,840.2 L642.2,839.9 L642.8,839.7 L643.4,839.5 L644.0,839.3 L644.7,839.2 L645.3,839.0 L645.9,838.8 L646.5,838.7 L647.2,838.5 L647.8,838.4 L648.5,838.3 L649.1,838.1 L649.8,838.0 L650.4,837.9 L651.1,837.8 L651.7,837.7 L652.4,837.7 L653.1,837.6 L653.8,837.5 L654.4,837.5 L655.1,837.4 L655.8,837.4 L656.5,837.4 L657.1,837.4 L657.8,837.4 L658.5,837.4 L659.2,837.4 L659.9,837.4 L660.6,837.4 L661.3,837.4 L662.0,837.5 L662.7,837.5 L663.4,837.6 L664.1,837.7 L664.9,837.8 L665.6,837.8 L666.3,837.9 L667.0,838.0 L667.7,838.2 L668.5,838.3 L669.2,838.4 L669.9,838.6 L670.6,838.7 L671.4,838.9 L672.1,839.0 L672.8,839.2 L673.6,839.4 L674.3,839.6 L675.0,839.8 L675.8,840.0 L676.5,840.2 L677.3,840.4 L678.0,840.7 L678.7,840.9 L679.5,841.2 L680.2,841.4 L681.0,841.7 L681.7,842.0 L682.5,842.2 L683.2,842.5 L684.0,842.8 L684.7,843.1 L685.5,843.5 L686.2,843.8 L687.0,844.1 L687.8,844.5 L688.5,844.8 L689.3,845.2 L690.0,843.8 L690.7,842.2 L691.4,840.3 L692.2,838.2 L693.0,836.1 L693.9,833.8 L694.7,831.5 L695.6,830.8 L696.6,830.4 L697.5,830.2 L698.4,830.1 L699.3,830.2 L700.2,830.4 L701.2,830.7 L702.1,831.1 L703.0,831.6 L703.9,832.2 L704.8,832.9 L705.7,833.7 L706.5,834.6 L707.4,835.6 L708.2,836.7 L709.0,837.9 L709.8,839.2 L710.6,840.8 L711.2,842.6 L711.7,845.8 L712.1,848.8 L712.4,851.7 L712.8,854.5 L713.2,857.1 L713.6,859.4 L714.0,861.4 L714.7,862.0 L715.5,862.6 L716.2,863.3 L716.9,863.9 L717.6,864.5 L718.4,865.2 L719.1,865.8 L719.8,866.5 L720.5,867.2 L721.2,867.8 L722.0,868.5 L722.7,869.2 L723.4,869.9 L724.1,870.6 L724.8,871.3 L725.5,872.0 L726.2,872.8 L726.9,873.5 L727.6,874.2 L728.3,874.9 L729.0,875.7 L729.7,876.4 L730.3,877.2 L731.0,878.0 L731.7,878.7 L732.4,879.5 L733.1,880.3 L733.7,881.1 L734.4,881.8 L735.1,882.6 L735.7,883.4 L736.4,884.2 L737.0,885.0 L737.7,885.9 L738.3,886.7 L739.0,887.5 L739.6,888.3 L740.2,889.2 L740.9,890.0 L741.5,890.9 L742.1,891.7 L742.8,892.6 L743.4,893.4 L744.0,894.3 L744.6,895.1 L745.2,896.0 L745.8,896.9 L746.4,897.8 L747.0,898.6 L747.6,899.5 L748.2,900.4 L748.8,901.3 L749.3,902.2 L749.9,903.1 L750.5,904.0 L751.1,904.9 L751.6,905.8 L752.2,906.8 L752.7,907.7 L753.3,908.6 L753.8,909.5 L754.4,910.5 L754.9,911.4 L755.4,912.3 L755.9,913.3 L756.5,914.2 L757.0,915.2 L757.5,916.1 L758.0,917.1 L758.5,918.0 L759.0,919.0 L759.5,919.9 L760.0,920.9 L760.4,921.9 L760.9,922.8 L761.4,923.8 L761.8,924.8 L762.3,925.7 L762.8,926.7 L763.2,927.7 L763.7,928.7 L764.1,929.6 L764.5,930.6 L765.0,931.6 L765.4,932.6 L765.8,933.6 L766.2,934.6 L767.8,935.3 L769.6,936.0 L771.6,936.7 L773.8,937.4 L776.1,938.2 L778.4,939.0 L780.9,939.9 L782.2,940.9 L783.3,942.0 L784.2,943.1 L785.1,944.3 L785.8,945.4 L786.5,946.6 L787.1,947.8 L787.6,949.0 L788.0,950.2 L788.4,951.4 L788.7,952.6 L788.9,953.8 L789.1,955.0 L789.1,956.2 L789.1,957.4 L788.9,958.5 L788.6,959.6 L788.2,960.8 L787.5,961.8 L785.6,962.7 L783.8,963.6 L782.0,964.4 L780.4,965.2 L778.8,965.9 L777.5,966.7 L776.5,967.4 L776.7,968.4 L776.9,969.4 L777.1,970.4 L777.3,971.4 Z" fill="none" stroke="#000" stroke-width="2.50" />
<path d="M718.6,865.5 L719.3,866.1 L720.0,866.8 L720.7,867.4 L721.4,868.1 L722.1,868.7 L722.8,869.4 L723.5,870.1 L724.2,870.7 L724.9,871.4 L725.6,872.1 L726.3,872.8 L727.0,873.5 L727.7,874.2 L728.3,874.9 L729.0,875.7 L729.7,876.4 L730.4,877.1 L731.0,877.9 L731.7,878.6 L732.4,879.3 L733.0,880.1 L733.7,880.9 L734.3,881.6 L735.0,882.4 L735.6,883.2 L736.3,884.0 L736.9,884.7 L737.6,885.5 L738.2,886.3 L738.8,887.1 L739.5,887.9 L740.1,888.7 L740.7,889.6 L741.3,890.4 L741.9,891.2 L742.6,892.0 L743.2,892.9 L743.8,893.7 L744.4,894.6 L745.0,895.4 L745.6,896.3 L746.1,897.1 L746.7,898.0 L747.3,898.8 L747.9,899.7 L748.5,900.6 L749.0,901.4 L749.6,902.3 L750.2,903.2 L750.7,904.1 L751.3,905.0 L751.8,905.9 L752.4,906.8 L752.9,907.7 L753.4,908.6 L754.0,909.5 L754.5,910.4 L755.0,911.3 L755.5,912.2 L756.0,913.1 L756.6,914.1 L757.1,915.0 L757.6,915.9 L758.1,916.8 L758.5,917.8 L759.0,918.7 L759.5,919.6 L760.0,920.6 L760.4,921.5 L760.9,922.5 L761.4,923.4 L761.8,924.4 L762.3,925.3 L762.7,926.3 L763.2,927.2 L763.6,928.2 L764.0,929.1 L764.4,930.1 L764.9,931.1 L765.3,932.0 L765.7,933.0 L766.1,933.9 L767.7,934.7 L769.5,935.3 L771.5,936.0 L773.6,936.7 L775.9,937.5 L778.2,938.3 L780.7,939.1 L782.0,940.1 L783.1,941.2 L784.0,942.3 L784.8,943.4 L785.6,944.6 L786.3,945.7 L786.8,946.9 L787.4,948.1 L787.8,949.2 L788.2,950.4 L788.4,951.6 L788.7,952.8 L788.8,953.9 L788.8,955.1 L788.8,956.3 L788.6,957.4 L788.3,958.5 L787.9,959.6 L787.2,960.6 L785.3,961.5 L783.5,962.3 L781.7,963.1 L780.0,963.9 L778.5,964.6 L777.2,965.3 L776.1,966.1 L776.3,967.1 L776.5,968.0 L776.7,969.0 L776.9,970.0 L777.1,970.9 L777.2,971.9 L777.4,972.8 L777.6,973.8 L777.7,974.8 L777.9,975.7 L778.0,976.7 L778.1,977.6 L778.3,978.6 L778.4,979.5 L778.5,980.4 L778.6,981.4 L778.7,982.3 L778.8,983.3 L778.9,984.2 L779.0,985.1 L779.1,986.1 L779.1,987.0 L779.2,987.9 L779.3,988.8 L779.3,989.7 L779.3,990.7 L779.4,991.6 L779.4,992.5 L779.4,993.4 L779.5,994.3 L779.5,995.2 L779.5,996.1 L779.5,997.0 L779.5,997.9 L779.5,998.8 L779.4,999.6 L779.4,1000.5 L779.4,1001.4 L779.3,1002.3 L779.3,1003.1 L779.2,1004.0 L779.2,1004.8 L779.1,1005.7 L779.0,1006.6 L779.0,1007.4 L778.9,1008.2 L778.8,1009.1 L778.7,1009.9 L778.6,1010.7 L778.5,1011.6 L778.4,1012.4 L778.2,1013.2 L778.1,1014.0 L778.0,1014.8 L777.8,1015.6 L777.7,1016.4 L777.5,1017.2 L777.4,1018.0 L777.2,1018.8 L777.0,1019.5 L776.8,1020.3 L776.7,1021.1 L776.5,1021.8 L776.3,1022.6 L776.1,1023.3 L775.9,1024.1 L775.6,1024.8 L775.4,1025.5 L775.2,1026.3 L774.9,1027.0 L774.7,1027.7 L774.5,1028.4 L774.2,1029.1 L773.9,1029.8 L773.7,1030.5 L773.4,1031.2 L773.1,1031.9 L772.8,1032.5 L772.6,1033.2 L772.3,1033.9 L772.0,1034.5 L771.7,1035.2 L771.3,1035.8 L771.0,1036.4 L770.7,1037.1 L770.4,1037.7 L770.0,1038.3 L770.9,1040.4 L772.0,1042.7 L773.3,1045.3 L774.7,1048.1 L776.2,1051.0 L777.7,1054.1 L779.3,1057.2 L779.7,1058.9 L779.9,1060.4 L779.9,1061.7 L779.9,1062.9 L779.7,1064.0 L779.5,1065.0 L779.1,1065.8 L778.7,1066.6 L778.3,1067.3 L777.8,1067.9 L777.2,1068.4 L776.5,1068.8 L775.8,1069.1 L775.0,1069.3 L774.1,1069.3 L773.2,1069.3 L772.1,1069.0 L771.0,1068.6 L769.6,1067.8 L767.3,1065.6 L765.1,1063.3 L762.9,1061.2 L760.9,1059.2 L759.1,1057.4 L757.3,1055.8 L755.9,1054.6 L755.4,1055.0 L754.9,1055.3 L754.3,1055.7 L753.8,1056.0 L753.3,1056.3 L752.7,1056.7 L752.2,1057.0 L751.7,1057.3 L751.1,1057.6 L750.5,1057.9 L750.0,1058.2 L749.4,1058.5 L748.9,1058.7 L748.3,1059.0 L747.7,1059.2 L747.1,1059.5 L746.6,1059.7 L746.0,1059.9 L745.4,1060.2 L744.8,1060.4 L744.2,1060.6 L743.6,1060.8 L743.0,1061.0 L742.4,1061.1 L741.8,1061.3 L741.1,1061.5 L740.5,1061.6 L739.9,1061.8 L739.3,1061.9 L738.6,1062.0 L738.0,1062.1 L737.4,1062.2 L736.7,1062.3 L736.1,1062.4 L735.4,1062.5 L734.8,1062.6 L734.1,1062.7 L733.5,1062.7 L732.8,1062.8 L732.2,1062.8 L731.5,1062.9 L730.8,1062.9 L730.1,1062.9 L729.5,1062.9 L728.8,1062.9 L728.1,1062.9 L727.4,1062.9 L726.8,1062.8 L726.1,1062.8 L725.4,1062.8 L724.7,1062.7 L724.0,1062.7 L723.3,1062.6 L722.6,1062.5 L721.9,1062.4 L721.2,1062.3 L720.5,1062.2 L719.8,1062.1 L719.1,1062.0 L718.4,1061.9 L717.7,1061.7 L717.0,1061.6 L716.2,1061.4 L715.5,1061.3 L714.8,1061.1 L714.1,1060.9 L713.4,1060.7 L712.7,1060.5 L711.9,1060.3 L711.2,1060.1 L710.5,1059.9 L709.8,1059.7 L709.0,1059.4 L708.3,1059.2 L707.6,1058.9 L706.8,1058.7 L706.1,1058.4 L705.4,1058.1 L704.6,1057.8 L703.9,1057.5 L703.2,1057.2 L702.4,1056.9 L701.7,1056.6 L701.0,1056.3 L700.2,1055.9 L699.5,1055.6 L698.7,1055.3 L698.1,1056.6 L697.4,1058.3 L696.6,1060.2 L695.9,1062.2 L695.1,1064.4 L694.3,1066.7 L693.4,1069.0 L692.5,1069.7 L691.6,1070.1 L690.7,1070.4 L689.8,1070.4 L688.9,1070.3 L688.0,1070.1 L687.1,1069.8 L686.2,1069.4 L685.3,1068.9 L684.4,1068.4 L683.5,1067.7 L682.7,1066.9 L681.8,1066.0 L681.0,1065.1 L680.2,1064.0 L679.4,1062.8 L678.6,1061.4 L677.9,1059.9 L677.2,1058.1 L676.8,1055.0 L676.4,1051.9 L676.1,1049.0 L675.7,1046.3 L675.3,1043.7 L675.0,1041.4 L674.6,1039.4 L673.8,1038.8 L673.1,1038.2 L672.4,1037.6 L671.7,1037.0 L671.0,1036.3 L670.3,1035.7 L669.6,1035.0 L668.9,1034.4 L668.2,1033.7 L667.5,1033.1 L666.8,1032.4 L666.1,1031.7 L665.4,1031.1 L664.7,1030.4 L664.0,1029.7 L663.3,1029.0 L662.6,1028.3 L661.9,1027.6 L661.3,1026.9 L660.6,1026.1 L659.9,1025.4 L659.2,1024.7 L658.6,1023.9 L657.9,1023.2 L657.2,1022.5 L656.6,1021.7 L655.9,1020.9 L655.3,1020.2 L654.6,1019.4 L654.0,1018.6 L653.3,1017.8 L652.7,1017.1 L652.0,1016.3 L651.4,1015.5 L650.8,1014.7 L650.1,1013.9 L649.5,1013.1 L648.9,1012.2 L648.3,1011.4 L647.7,1010.6 L647.0,1009.8 L646.4,1008.9 L645.8,1008.1 L645.2,1007.2" fill="none" stroke="#000" stroke-width="1.00" />
<path d="M784.3,952.2 L784.5,953.8 L784.4,955.4 L784.0,956.7 L783.4,957.7 L782.6,958.5 L781.6,958.8 L780.4,958.8 L779.2,958.4 L778.0,957.7 L776.7,956.6 L775.6,955.3 L774.6,953.7 L773.8,952.0 L773.3,950.3 L773.0,948.6 L772.9,947.0 L773.1,945.5 L773.6,944.4 L774.3,943.5 L775.3,942.9 L776.4,942.8 L777.6,943.0 L778.8,943.5 L780.0,944.4 L781.2,945.6 L782.3,947.1 L783.2,948.7 L783.9,950.4 L784.3,952.2 Z" fill="none" stroke="#000" stroke-width="2.40" />
<path d="M775.3,1060.2 L775.4,1061.9 L775.4,1063.4 L775.0,1064.7 L774.4,1065.7 L773.6,1066.5 L772.5,1066.8 L771.4,1066.8 L770.2,1066.4 L768.9,1065.7 L767.7,1064.6 L766.6,1063.3 L765.6,1061.7 L764.8,1060.1 L764.2,1058.3 L763.9,1056.6 L763.9,1055.0 L764.1,1053.6 L764.6,1052.4 L765.3,1051.5 L766.2,1050.9 L767.3,1050.8 L768.5,1051.0 L769.8,1051.5 L771.0,1052.4 L772.2,1053.7 L773.2,1055.1 L774.1,1056.7 L774.8,1058.4 L775.3,1060.2 Z" fill="none" stroke="#000" stroke-width="2.40" />
<path d="M689.9,1061.3 L690.1,1062.9 L690.0,1064.5 L689.6,1065.8 L689.0,1066.8 L688.2,1067.6 L687.2,1067.9 L686.0,1067.9 L684.8,1067.5 L683.5,1066.8 L682.3,1065.7 L681.2,1064.4 L680.2,1062.8 L679.4,1061.1 L678.8,1059.4 L678.5,1057.7 L678.5,1056.1 L678.7,1054.7 L679.2,1053.5 L679.9,1052.6 L680.8,1052.0 L681.9,1051.9 L683.1,1052.1 L684.4,1052.6 L685.6,1053.5 L686.8,1054.7 L687.9,1056.2 L688.8,1057.8 L689.4,1059.5 L689.9,1061.3 Z" fill="none" stroke="#000" stroke-width="2.40" />
<path d="M613.5,954.4 L613.7,956.0 L613.6,957.6 L613.2,958.9 L612.6,959.9 L611.8,960.6 L610.8,961.0 L609.7,961.0 L608.4,960.6 L607.2,959.9 L606.0,958.8 L604.8,957.5 L603.8,955.9 L603.1,954.2 L602.5,952.5 L602.2,950.8 L602.1,949.2 L602.4,947.7 L602.8,946.5 L603.6,945.7 L604.5,945.1 L605.6,944.9 L606.8,945.1 L608.0,945.7 L609.3,946.6 L610.4,947.8 L611.5,949.3 L612.4,950.9 L613.1,952.6 L613.5,954.4 Z" fill="none" stroke="#000" stroke-width="2.40" />
<path d="M622.6,846.3 L622.7,848.0 L622.6,849.6 L622.3,850.9 L621.7,851.9 L620.8,852.6 L619.8,853.0 L618.7,853.0 L617.5,852.6 L616.2,851.8 L615.0,850.8 L613.9,849.4 L612.9,847.9 L612.1,846.2 L611.5,844.5 L611.2,842.8 L611.2,841.2 L611.4,839.7 L611.9,838.5 L612.6,837.7 L613.5,837.1 L614.6,836.9 L615.8,837.1 L617.1,837.7 L618.3,838.6 L619.5,839.8 L620.5,841.3 L621.4,842.9 L622.1,844.6 L622.6,846.3 Z" fill="none" stroke="#000" stroke-width="2.40" />
<path d="M707.9,845.3 L708.1,846.9 L708.0,848.5 L707.7,849.8 L707.1,850.8 L706.2,851.5 L705.2,851.9 L704.1,851.9 L702.8,851.5 L701.6,850.8 L700.4,849.7 L699.3,848.4 L698.3,846.8 L697.5,845.1 L696.9,843.4 L696.6,841.7 L696.6,840.1 L696.8,838.6 L697.3,837.4 L698.0,836.6 L698.9,836.0 L700.0,835.8 L701.2,836.0 L702.4,836.6 L703.7,837.5 L704.9,838.7 L705.9,840.2 L706.8,841.8 L707.5,843.5 L707.9,845.3 Z" fill="none" stroke="#000" stroke-width="2.40" />
<path d="M137.2,124.8 L151.5,106.1 L151.5,116.7 L203.4,143.6 L203.4,173.6 L152.8,147.3 L152.2,158.6 Z" fill="#000" stroke="#000" stroke-width="1.89" />
<path d="M138.2,124.5 L152.5,105.8 L152.5,116.4 L204.4,143.3 L204.4,173.3 L153.8,147.0 L153.2,158.3 Z" fill="#000" stroke="#000" stroke-width="1.89" />
<path d="M139.1,124.3 L153.4,105.6 L153.4,116.2 L205.3,143.1 L205.3,173.1 L154.7,146.8 L154.1,158.1 Z" fill="#000" stroke="#000" stroke-width="1.89" />
<path d="M140.0,124.1 L154.3,105.4 L154.3,116.0 L206.2,142.9 L206.2,172.9 L155.6,146.6 L155.0,157.9 Z" fill="#000" stroke="#000" stroke-width="1.89" />
<path d="M140.9,123.9 L155.2,105.2 L155.2,115.8 L207.1,142.7 L207.1,172.7 L156.5,146.4 L155.9,157.7 Z" fill="#000" stroke="#000" stroke-width="1.89" />
<path d="M141.9,123.6 L156.2,104.9 L156.2,115.5 L208.1,142.4 L208.1,172.4 L157.5,146.1 L156.9,157.4 Z" fill="#000" stroke="#000" stroke-width="1.89" />
<path d="M142.8,123.4 L157.1,104.7 L157.1,115.3 L209.0,142.2 L209.0,172.2 L158.4,145.9 L157.8,157.2 Z" fill="#000" stroke="#000" stroke-width="1.89" />
<path d="M136.3,125.0 L150.6,106.3 L150.6,116.9 L202.5,143.8 L202.5,173.8 L151.9,147.5 L151.3,158.8 Z" fill="#fff" stroke="#000" stroke-width="1.77" />
<text transform="translate(147.2,140.5) skewY(28) scale(0.55,1)" font-family="Liberation Sans" font-weight="bold" font-size="28.5" fill="#000" stroke="#000" stroke-width="1.3">FRONT</text>
<path d="M176.8,394.0 L234.9,363.1" fill="none" stroke="#000" stroke-width="1.89" />
<path d="M183.9,405.8 L240.2,374.4" fill="none" stroke="#000" stroke-width="1.89" />
<path d="M233.7,363.7 C235.5,362.4 241.6,357.0 244.4,356.0 C247.2,355.0 248.8,356.4 250.3,357.8 C251.9,359.2 253.3,362.3 253.6,364.3 C253.9,366.3 254.3,368.0 252.1,369.7 C249.9,371.3 242.2,373.6 240.2,374.4" fill="none" stroke="#000" stroke-width="1.89" />
<path d="M235.5,364.9 C236.1,365.6 238.2,367.8 239.1,369.2 C240.0,370.6 240.5,372.7 240.8,373.5" fill="none" stroke="#000" stroke-width="1.20" />
<path d="M239.1,362.8 C239.7,363.5 241.8,365.8 242.7,367.3 C243.6,368.8 244.1,371.0 244.4,371.8" fill="none" stroke="#000" stroke-width="1.20" />
<path d="M243.0,360.4 C243.5,361.2 245.6,363.6 246.4,365.1 C247.2,366.7 247.7,369.1 247.9,369.9" fill="none" stroke="#000" stroke-width="1.20" />
<path d="M157.8,395.8 C159.4,394.9 164.3,390.8 167.3,390.4 C170.2,390.0 173.2,391.5 175.6,393.4 C178.0,395.3 180.2,398.7 181.5,401.7 C182.9,404.7 183.7,408.4 183.7,411.2 C183.6,414.0 182.8,416.7 181.3,418.5 C179.7,420.3 176.7,421.5 174.4,422.1 C172.1,422.6 168.5,421.9 167.3,421.9" fill="none" stroke="#000" stroke-width="2.01" />
<path d="M161.9,395.8 C163.4,395.3 168.2,392.7 170.8,393.1 C173.5,393.5 176.2,395.9 178.0,398.1 C179.7,400.3 180.9,405.0 181.5,406.4" fill="none" stroke="#000" stroke-width="1.09" />
<path d="M154.2,399.9 L160.8,398.1 L167.3,396.9 L174.4,405.8 L173.8,417.1 L169.7,421.9 L163.1,423.6" fill="none" stroke="#000" stroke-width="1.89" />
<path d="M160.8,398.1 L165.5,405.8 L174.4,405.8" fill="none" stroke="#000" stroke-width="1.20" />
<path d="M165.5,405.8 L166.1,417.1 L173.8,417.1" fill="none" stroke="#000" stroke-width="1.20" />
<path d="M166.1,417.1 L164.3,423.0" fill="none" stroke="#000" stroke-width="1.09" />
<path d="M150.1,406.4 C150.7,404.3 151.6,401.8 153.0,400.5 C154.5,399.2 157.2,398.5 159.0,398.7 C160.8,398.9 162.6,400.0 163.7,401.7 C164.9,403.4 165.6,406.2 165.9,408.8 C166.1,411.4 165.8,414.6 165.1,417.1 C164.5,419.6 163.4,422.4 161.9,423.6 C160.5,424.9 158.3,425.0 156.6,424.5 C154.9,424.0 153.0,422.5 151.9,420.7 C150.7,418.8 149.8,415.9 149.5,413.5 C149.2,411.2 149.5,408.6 150.1,406.4 Z" fill="#fff" stroke="#000" stroke-width="2.01" />
<path d="M375.0,275.0 C374.0,274.6 370.7,272.7 368.8,272.3 C366.8,271.9 365.4,272.1 363.5,272.8 C361.6,273.5 360.4,274.7 357.5,276.3 C354.6,277.9 350.1,280.7 346.3,282.5 C342.6,284.3 337.7,285.4 335.0,286.9 C332.3,288.4 331.0,288.9 330.0,291.3 C329.0,293.7 328.9,297.1 328.8,301.3 C328.7,305.5 329.4,310.7 329.4,316.3 C329.4,321.9 328.9,327.7 328.8,335.0 C328.7,342.3 328.5,354.4 328.8,360.0 C329.1,365.6 329.4,365.7 330.6,368.8 C331.9,371.9 334.1,376.2 336.3,378.8 C338.5,381.4 341.0,381.8 344.0,384.5 C347.0,387.2 350.6,389.8 354.2,394.9 C357.8,399.9 362.3,409.1 365.6,414.8 C368.9,420.5 370.6,425.0 374.2,429.0 C377.8,433.0 382.0,436.4 387.0,439.0 C392.0,441.6 398.1,443.0 404.0,444.7 C409.9,446.4 418.0,448.8 422.5,449.0 C427.0,449.2 428.1,447.7 431.0,446.0 C433.9,444.3 438.2,440.2 439.6,439.0" fill="none" stroke="#000" stroke-width="1.89" />
<path d="M362.5,273.8 C366.2,275.5 380.2,281.9 385.0,283.8 C389.8,285.7 389.6,284.2 391.3,285.0 C393.0,285.8 394.8,287.6 395.0,288.8 C395.2,290.1 395.0,290.4 392.5,292.5 C390.0,294.6 383.3,299.0 380.0,301.3 C376.7,303.6 373.8,305.5 372.5,306.3" fill="none" stroke="#000" stroke-width="1.89" />
<path d="M375.0,275.0 C376.9,273.9 383.6,269.0 386.3,268.1 C389.0,267.2 389.6,268.0 391.3,269.4 C393.0,270.8 395.4,274.1 396.3,276.3 C397.2,278.5 397.3,281.0 396.9,282.5 C396.5,284.0 394.3,285.0 393.8,285.5" fill="none" stroke="#000" stroke-width="1.89" />
<path d="M386.5,283.5 L391.5,277.5" fill="none" stroke="#000" stroke-width="1.09" />
<path d="M372.5,308.8 L365.0,313.8 L349.3,328.5 L351.8,355.8 L392.0,412.4 L417.5,423.4" fill="none" stroke="#000" stroke-width="1.89" />
<path d="M375.0,309.5 L370.0,312.5 L354.0,329.5 L356.5,355.5 L395.0,408.5 L417.0,418.5" fill="none" stroke="#000" stroke-width="1.09" />
<path d="M330.6,305.6 L365.0,289.4" fill="none" stroke="#000" stroke-width="1.89" />
<path d="M331.9,315.6 L366.3,297.5" fill="none" stroke="#000" stroke-width="1.89" />
<path d="M330.0,310.5 L365.0,293.5" fill="none" stroke="#000" stroke-width="0.98" />
<ellipse cx="327.3" cy="311.5" rx="3.8" ry="5.6" transform="rotate(-15 327.3 311.5)" fill="#fff" stroke="#000" stroke-width="1.89"/>
<ellipse cx="366.5" cy="290.5" rx="7.5" ry="10.5" transform="rotate(-30 366.5 290.5)" fill="none" stroke="#000" stroke-width="1.89"/>
<ellipse cx="368.5" cy="289.5" rx="6.5" ry="9.5" transform="rotate(-30 368.5 289.5)" fill="none" stroke="#000" stroke-width="1.09"/>
<ellipse cx="364.8" cy="291.3" rx="4.8" ry="7.0" transform="rotate(-30 364.8 291.3)" fill="none" stroke="#000" stroke-width="1.09"/>
<path d="M339.8,309.4 C339.9,310.4 339.5,314.0 340.6,315.6 C341.7,317.2 344.4,318.6 346.2,319.0 C348.1,319.4 350.4,318.8 351.6,317.8 C352.8,316.7 353.2,313.4 353.5,312.5" fill="none" stroke="#000" stroke-width="1.77" />
<ellipse cx="346.2" cy="313.5" rx="2.2" ry="1.8" transform="rotate(0 346.2 313.5)" fill="none" stroke="#000" stroke-width="1.20"/>
<path d="M361.9,308.1 C362.1,307.1 363.4,305.6 365.0,305.2 C366.6,304.9 370.0,305.5 371.2,306.2 C372.5,307.0 373.1,308.7 372.8,309.8 C372.4,310.8 370.5,312.2 369.0,312.5 C367.5,312.8 364.9,312.2 363.8,311.5 C362.6,310.8 361.7,309.2 361.9,308.1 Z" fill="#fff" stroke="#000" stroke-width="1.65" />
<ellipse cx="343.8" cy="370.0" rx="9.8" ry="12.3" transform="rotate(-20 343.8 370.0)" fill="none" stroke="#000" stroke-width="1.89"/>
<ellipse cx="344.8" cy="369.5" rx="8.4" ry="11.0" transform="rotate(-20 344.8 369.5)" fill="none" stroke="#000" stroke-width="1.09"/>
<ellipse cx="343.3" cy="371.0" rx="4.4" ry="5.8" transform="rotate(-20 343.3 371.0)" fill="none" stroke="#000" stroke-width="1.65"/>
<ellipse cx="343.8" cy="370.5" rx="2.4" ry="3.4" transform="rotate(-20 343.8 370.5)" fill="none" stroke="#000" stroke-width="1.09"/>
<path d="M416.9,421.9 C419.2,420.2 427.2,414.9 431.0,412.0 C434.8,409.1 435.1,408.6 439.6,404.8 C444.1,401.0 454.4,391.9 458.0,389.0 C461.6,386.1 459.8,386.7 461.0,387.7 C462.2,388.7 464.0,389.0 465.3,394.9 C466.6,400.8 468.8,417.6 468.8,423.3 C468.8,429.0 467.8,427.6 465.3,429.0 C462.8,430.4 458.2,430.2 453.9,431.9 C449.6,433.6 442.0,437.8 439.6,439.0" fill="none" stroke="#000" stroke-width="1.89" />
<path d="M458.0,389.0 L462.5,400.0 L466.0,424.0" fill="none" stroke="#000" stroke-width="1.09" />
<path d="M466.0,399.0 C467.3,398.4 471.3,395.4 473.8,395.6 C476.3,395.9 479.5,398.5 480.9,400.5 C482.3,402.5 483.0,405.6 482.3,407.7 C481.6,409.8 478.7,412.0 476.6,413.4 C474.5,414.8 470.7,415.7 469.5,416.2" fill="none" stroke="#000" stroke-width="1.89" />
<ellipse cx="452.4" cy="418.0" rx="6.8" ry="10.2" transform="rotate(-25 452.4 418.0)" fill="#fff" stroke="#000" stroke-width="1.89"/>
<ellipse cx="449.2" cy="419.3" rx="6.0" ry="9.2" transform="rotate(-25 449.2 419.3)" fill="#fff" stroke="#000" stroke-width="1.65"/>
<ellipse cx="448.2" cy="419.8" rx="4.2" ry="7.0" transform="rotate(-25 448.2 419.8)" fill="none" stroke="#000" stroke-width="1.09"/>
<path d="M411.2,433.3 L446.5,417.8 L450.5,426.5 L416.9,443.2 Z" fill="#fff" stroke="#000" stroke-width="0.01" />
<path d="M411.2,433.3 L446.5,417.8" fill="none" stroke="#000" stroke-width="1.89" />
<path d="M416.9,443.2 L450.5,426.5" fill="none" stroke="#000" stroke-width="1.89" />
<path d="M412.6,436.8 L447.8,421.2" fill="none" stroke="#000" stroke-width="0.98" />
<path d="M415.4,440.4 L449.2,424.0" fill="none" stroke="#000" stroke-width="0.98" />
<ellipse cx="413.9" cy="438.7" rx="5.0" ry="6.3" transform="rotate(-25 413.9 438.7)" fill="#fff" stroke="#000" stroke-width="1.89"/>
<path d="M403.0,446.0 L409.0,441.5" fill="none" stroke="#000" stroke-width="1.09" />
<path d="M458.2,259.8 L460.9,257.3 L473.5,246.9 L475.7,244.7 L472.4,241.4 L470.8,237.3 L474.1,234.6 L477.4,233.2 L483.9,234.3 L487.8,239.8 L488.9,245.3 L486.1,248.5 L485.6,250.7 L496.5,265.0 L498.7,264.4 L501.5,260.6 L505.8,260.0 L512.4,268.8 L512.6,272.6 L509.7,274.3 L506.4,275.6 L505.3,277.0 L527.7,309.3 L531.6,306.6 L535.4,306.6 L543.1,315.9 L543.3,319.2 L539.8,320.0 L536.5,321.6 L548.5,343.3 L550.2,344.6 L554.0,342.4 L559.5,348.7 L561.7,353.1 L561.7,358.6 L554.6,363.8 L551.3,358.0 L546.4,360.2 L535.4,368.4 L531.6,367.6" fill="none" stroke="#000" stroke-width="1.89" />
<path d="M531.6,367.6 C527.1,362.2 512.9,346.2 504.7,335.6 C496.6,325.0 489.2,313.7 482.8,303.8 C476.5,294.0 470.4,283.0 466.4,276.5 C462.4,269.9 460.1,267.2 458.8,264.4 C457.4,261.6 458.3,260.6 458.2,259.8" fill="none" stroke="#000" stroke-width="1.89" />
<path d="M486.7,248.5 L488.3,245.8 L501.5,260.0" fill="none" stroke="#000" stroke-width="1.31" />
<path d="M488.9,246.4 L501.5,260.0 L499.8,261.7 L487.8,248.5 Z" fill="#000" stroke="#000" stroke-width="1.09" />
<path d="M509.1,274.8 L533.2,305.5" fill="none" stroke="#000" stroke-width="1.31" />
<path d="M511.3,275.4 L534.3,306.6" fill="none" stroke="#000" stroke-width="1.09" />
<path d="M539.8,320.0 L554.0,341.1" fill="none" stroke="#000" stroke-width="1.31" />
<path d="M541.4,321.4 L552.9,340.0" fill="none" stroke="#000" stroke-width="1.09" />
<path d="M482.8,235.4 L488.3,242.5 L486.1,248.5" fill="none" stroke="#000" stroke-width="1.09" />
<path d="M555.1,344.3 L558.4,352.0 L557.9,359.7" fill="none" stroke="#000" stroke-width="1.09" />
<path d="M543.0,211.6 C543.4,208.2 544.3,197.7 545.3,191.1 C546.4,184.4 547.7,176.0 549.2,171.9 C550.6,167.8 551.9,168.1 553.9,166.4 C556.0,164.8 559.2,162.7 561.5,162.0 C563.8,161.4 565.6,161.4 567.6,162.6 C569.7,163.8 571.9,166.7 573.8,169.2 C575.7,171.6 578.2,174.9 579.3,177.4 C580.3,179.9 580.6,182.3 580.0,184.2 C579.3,186.2 576.8,187.6 575.2,189.0 C573.6,190.4 571.4,190.9 570.4,192.4 C569.3,193.9 568.9,195.8 569.0,197.9 C569.1,200.0 569.1,201.8 571.1,204.7 C573.0,207.7 579.0,213.9 580.6,215.7" fill="none" stroke="#000" stroke-width="1.89" />
<path d="M580.6,215.7 L586.1,213.6 L594.3,223.9 L590.2,228.0 L612.1,259.5 L617.6,258.8 L625.8,270.4 L621.7,273.9 L636.7,297.8" fill="none" stroke="#000" stroke-width="1.89" />
<path d="M636.7,297.8 C638.1,296.7 642.4,292.4 645.0,291.0 C647.5,289.5 649.5,288.7 651.8,288.9 C654.1,289.1 656.1,289.9 658.6,292.3 C661.2,294.7 665.4,300.3 666.9,303.3 C668.3,306.2 668.5,307.8 667.5,310.1 C666.6,312.4 664.0,315.0 661.4,317.0 C658.8,318.9 656.4,321.1 651.8,321.8 C647.2,322.4 639.9,321.1 634.0,320.8 C628.1,320.5 619.2,319.9 616.2,319.7" fill="none" stroke="#000" stroke-width="1.89" />
<path d="M562.8,163.7 C564.7,165.3 571.5,170.1 573.8,173.3 C576.1,176.5 577.3,180.1 576.5,182.8 C575.7,185.6 570.7,187.6 569.0,189.7 C567.3,191.7 566.5,192.7 566.3,195.2 C566.0,197.7 565.6,201.1 567.6,204.7 C569.7,208.4 576.8,215.0 578.6,217.1" fill="none" stroke="#000" stroke-width="1.09" />
<path d="M588.8,230.7 L610.7,263.6" fill="none" stroke="#000" stroke-width="1.09" />
<path d="M620.3,274.5 L635.4,298.5" fill="none" stroke="#000" stroke-width="1.09" />
<path d="M649.1,291.0 C651.1,292.1 658.6,295.1 661.4,297.8 C664.1,300.5 664.8,305.8 665.5,307.4" fill="none" stroke="#000" stroke-width="1.09" />
<path d="M570.8,180.9 L571.4,181.9 L571.7,182.9 L571.8,184.0 L571.6,185.1 L571.1,186.0 L570.4,186.9 L569.4,187.5 L568.4,187.8 L567.3,187.9 L566.2,187.7 L565.2,187.2 L564.4,186.4 L556.3,177.1 L555.7,176.2 L555.3,175.1 L555.3,174.0 L555.5,173.0 L556.0,172.0 L556.7,171.2 L557.6,170.6 L558.7,170.2 L559.8,170.1 L560.8,170.4 L561.8,170.9 L562.6,171.6 Z" fill="none" stroke="#000" stroke-width="2.01" />
<path d="M559.5,174.3 L567.6,183.7" fill="none" stroke="#000" stroke-width="1.09" />
<path d="M657.9,307.9 L658.5,308.9 L658.9,309.9 L659.0,311.0 L658.7,312.1 L658.3,313.0 L657.5,313.9 L656.6,314.5 L655.6,314.8 L654.5,314.9 L653.4,314.7 L652.4,314.2 L651.6,313.4 L643.5,304.1 L642.9,303.2 L642.5,302.1 L642.4,301.0 L642.7,300.0 L643.2,299.0 L643.9,298.2 L644.8,297.6 L645.8,297.2 L646.9,297.1 L648.0,297.4 L649.0,297.9 L649.8,298.6 Z" fill="none" stroke="#000" stroke-width="2.01" />
<path d="M646.6,301.3 L654.8,310.7" fill="none" stroke="#000" stroke-width="1.09" />
<path d="M539.6,218.4 C540.0,217.5 539.8,215.3 542.3,213.0 C544.8,210.6 552.0,205.7 554.6,204.1 C557.3,202.4 557.5,203.3 558.1,203.1" fill="none" stroke="#000" stroke-width="1.89" />
<path d="M558.1,203.1 L628.5,306.0 L628.8,309.4 L619.0,318.3 L612.1,321.1 L609.1,318.6" fill="none" stroke="#000" stroke-width="1.89" />
<path d="M609.1,318.6 C605.0,313.3 592.2,296.7 584.7,286.9 C577.3,277.0 570.6,269.1 564.2,259.5 C557.8,249.9 550.5,236.2 546.4,229.4 C542.3,222.5 540.7,220.3 539.6,218.4" fill="none" stroke="#000" stroke-width="1.89" />
<path d="M555.7,204.7 L625.8,308.8" fill="none" stroke="#000" stroke-width="1.09" />
<path d="M303.0,639.0 C302.1,639.3 299.5,640.8 297.5,640.6 C295.5,640.4 292.8,639.4 290.9,637.9 C289.1,636.3 287.3,633.9 286.6,631.3 C285.8,628.8 285.7,625.1 286.6,622.6 C287.5,620.0 291.1,617.1 292.0,616.0" fill="none" stroke="#000" stroke-width="1.89" />
<path d="M292.0,616.0 L329.3,591.4 L335.8,590.6" fill="none" stroke="#000" stroke-width="1.89" />
<path d="M295.3,617.1 C296.4,618.2 300.3,620.9 301.9,623.7 C303.5,626.4 304.6,631.9 305.2,633.5" fill="none" stroke="#000" stroke-width="1.20" />
<path d="M303.0,639.0 L312.8,635.5" fill="none" stroke="#000" stroke-width="1.89" />
<path d="M323.8,628.0 L346.8,615.4" fill="none" stroke="#000" stroke-width="1.31" />
<path d="M335.8,590.6 C336.8,590.4 339.3,588.9 341.3,589.7 C343.3,590.5 346.1,592.8 347.9,595.2 C349.7,597.6 351.7,601.4 352.3,603.9 C352.8,606.5 351.9,609.1 351.2,610.5 C350.4,612.0 348.4,612.3 347.9,612.7" fill="none" stroke="#000" stroke-width="2.36" />
<path d="M339.1,591.9 C340.2,592.8 343.9,595.0 345.7,597.4 C347.5,599.7 349.5,603.9 350.1,606.1 C350.6,608.3 349.2,609.8 349.0,610.5" fill="none" stroke="#000" stroke-width="1.09" />
<path d="M347.9,612.7 C348.1,613.6 348.1,616.4 349.0,618.2 C349.9,620.0 351.5,621.8 353.4,623.7 C355.2,625.5 358.8,628.2 359.9,629.1" fill="none" stroke="#000" stroke-width="1.89" />
<path d="M350.3,612.2 C351.3,614.5 350.5,626.0 356.3,626.2 C362.1,626.4 375.3,617.9 385.0,613.5 C394.7,609.1 406.9,602.3 414.5,600.1 C422.1,597.9 426.6,598.1 430.6,600.1 C434.6,602.1 436.9,608.5 438.6,612.2 C440.3,615.9 437.6,616.5 440.6,622.2 C443.6,627.9 452.7,641.6 456.7,646.3 C460.7,651.0 462.4,647.9 464.7,650.3 C467.0,652.6 469.0,656.0 470.7,660.4 C472.4,664.8 476.0,669.7 474.7,676.4 C473.4,683.1 466.7,695.8 462.7,700.5 C458.7,705.2 454.3,702.5 450.6,704.5 C446.9,706.5 446.0,711.2 440.6,712.5 C435.2,713.8 423.5,712.1 418.5,712.5 C413.5,712.9 409.5,712.6 410.5,714.6 C411.5,716.6 421.2,721.6 424.6,724.6 C428.0,727.6 429.6,728.6 430.6,732.6 C431.6,736.6 433.3,744.5 430.6,748.7 C427.9,752.9 420.2,756.2 414.5,757.7 C408.8,759.2 400.5,758.9 396.5,757.7 C392.5,756.5 391.8,754.2 390.4,750.7 C389.0,747.2 392.8,737.9 388.4,736.6 C384.0,735.3 369.6,742.0 364.3,742.7 C359.0,743.4 360.0,742.6 356.3,740.6 C352.6,738.6 345.0,734.9 342.3,730.6 C339.6,726.3 341.7,718.3 340.3,714.6 C338.9,710.9 336.6,710.9 334.2,708.5 C331.8,706.1 327.9,702.5 326.2,700.5 C324.5,698.5 325.9,698.5 324.2,696.5 C322.5,694.5 318.9,691.5 316.2,688.5 C313.5,685.5 310.0,683.1 308.1,678.4 C306.2,673.7 305.1,664.9 305.1,660.4 C305.1,655.9 307.3,654.0 308.1,651.3 C308.9,648.6 308.4,647.1 310.1,644.3 C311.8,641.5 316.9,636.0 318.2,634.3" fill="none" stroke="#000" stroke-width="1.89" />
<path d="M359.4,629.0 L382.0,618.7 L419.0,603.0" fill="none" stroke="#000" stroke-width="1.42" />
<path d="M419.0,603.0 L425.8,614.6 L439.5,615.3" fill="none" stroke="#000" stroke-width="1.42" />
<path d="M382.0,618.7 L393.0,635.2 L425.8,615.3" fill="none" stroke="#000" stroke-width="1.42" />
<path d="M393.0,643.4 L436.1,620.8" fill="none" stroke="#000" stroke-width="1.31" />
<path d="M393.0,635.2 L386.1,646.1" fill="none" stroke="#000" stroke-width="1.31" />
<path d="M387.5,646.1 L390.2,647.5 L393.0,655.7 L399.8,674.2" fill="none" stroke="#000" stroke-width="1.42" />
<path d="M375.2,654.3 L390.2,647.5" fill="none" stroke="#000" stroke-width="1.31" />
<path d="M376.5,662.5 L391.6,657.1" fill="none" stroke="#000" stroke-width="1.31" />
<path d="M350.5,672.1 L365.6,658.4 L375.2,653.0 L387.5,647.5" fill="none" stroke="#000" stroke-width="1.65" />
<path d="M351.9,675.5 L376.5,665.3 L391.6,658.4" fill="none" stroke="#000" stroke-width="1.65" />
<path d="M356.0,670.7 L364.2,668.0" fill="none" stroke="#000" stroke-width="1.09" />
<path d="M367.0,661.2 L368.3,666.6" fill="none" stroke="#000" stroke-width="1.89" />
<path d="M371.1,659.8 L372.4,664.6" fill="none" stroke="#000" stroke-width="1.09" />
<path d="M393.0,679.0 L399.8,674.2 L416.2,668.7 L453.2,651.6 L464.1,649.5" fill="none" stroke="#000" stroke-width="1.65" />
<path d="M453.2,651.6 L459.3,661.8 L471.0,663.2" fill="none" stroke="#000" stroke-width="1.42" />
<path d="M416.2,668.7 L425.8,684.4 L459.3,662.5" fill="none" stroke="#000" stroke-width="1.42" />
<path d="M415.5,703.6 L468.2,669.4" fill="none" stroke="#000" stroke-width="1.31" />
<path d="M416.9,708.4 L469.6,674.2" fill="none" stroke="#000" stroke-width="1.31" />
<path d="M425.8,684.4 L412.1,703.6 L413.5,711.8" fill="none" stroke="#000" stroke-width="1.42" />
<path d="M438.1,709.1 L446.3,695.4 L450.4,694.0 L450.4,699.5 L442.2,711.8 L438.8,710.4 L438.1,709.1" fill="none" stroke="#000" stroke-width="1.65" />
<path d="M393.0,679.0 L398.4,688.5 L369.7,703.6" fill="none" stroke="#000" stroke-width="1.65" />
<path d="M391.6,695.4 L401.2,710.4 L409.4,714.5 L412.1,710.4" fill="none" stroke="#000" stroke-width="1.31" />
<path d="M386.1,717.3 L398.4,711.8" fill="none" stroke="#000" stroke-width="1.20" />
<path d="M395.7,724.1 L406.6,720.0" fill="none" stroke="#000" stroke-width="1.20" />
<path d="M402.5,728.2 L410.7,724.8" fill="none" stroke="#000" stroke-width="1.20" />
<path d="M313.9,629.7 C313.8,630.9 312.5,634.5 312.8,636.8 C313.2,639.1 314.7,641.4 316.1,643.4 C317.6,645.4 319.4,647.6 321.6,648.8 C323.8,650.1 327.1,650.8 329.3,651.0 C331.5,651.2 333.8,650.1 334.7,649.9" fill="none" stroke="#000" stroke-width="1.65" />
<ellipse cx="326.0" cy="640.1" rx="4.3" ry="4.6" transform="rotate(0 326.0 640.1)" fill="none" stroke="#000" stroke-width="2.12"/>
<ellipse cx="326.0" cy="640.1" rx="2.0" ry="2.2" transform="rotate(0 326.0 640.1)" fill="none" stroke="#000" stroke-width="1.09"/>
<path d="M328.2,636.8 L336.9,626.4 L323.2,634.1" fill="none" stroke="#000" stroke-width="1.31" />
<path d="M323.8,628.0 L312.8,633.5" fill="none" stroke="#000" stroke-width="1.09" />
<path d="M333.7,651.6 L361.6,635.7" fill="none" stroke="#000" stroke-width="1.42" />
<path d="M355.6,643.4 L364.3,654.3" fill="none" stroke="#000" stroke-width="1.31" />
<path d="M380.7,619.3 L392.8,635.7 L384.0,645.6" fill="none" stroke="#000" stroke-width="1.42" />
<path d="M309.6,642.3 C309.0,644.1 307.0,649.7 306.3,653.2 C305.5,656.7 305.0,659.6 305.2,663.1 C305.4,666.5 307.0,672.2 307.4,674.0" fill="none" stroke="#000" stroke-width="1.42" />
<path d="M328.2,654.3 C329.5,655.7 334.2,658.7 336.2,662.4 C338.3,666.0 340.2,671.7 340.7,676.4 C341.2,681.1 340.4,686.8 339.2,690.5 C338.1,694.1 334.7,697.2 333.8,698.5" fill="none" stroke="#000" stroke-width="1.42" />
<path d="M366.3,706.5 C368.0,708.5 373.9,714.2 376.4,718.6 C378.9,722.9 380.9,728.9 381.4,732.6 C381.9,736.3 379.7,739.3 379.4,740.7" fill="none" stroke="#000" stroke-width="1.31" />
<path d="M382.4,718.6 C382.9,720.6 382.7,728.2 385.4,730.6 C388.1,733.0 396.3,732.6 398.5,733.0" fill="none" stroke="#000" stroke-width="1.20" />
<ellipse cx="321.5" cy="677.0" rx="11.5" ry="15.5" transform="rotate(-15 321.5 677.0)" fill="none" stroke="#000" stroke-width="1.89"/>
<ellipse cx="352.5" cy="726.0" rx="11.5" ry="14.5" transform="rotate(-15 352.5 726.0)" fill="none" stroke="#000" stroke-width="1.89"/>
<path d="M341.0,712.0 C342.8,711.6 348.5,709.2 352.0,709.5 C355.5,709.8 359.3,711.6 362.0,714.0 C364.7,716.4 367.0,722.3 368.0,724.0" fill="none" stroke="#000" stroke-width="1.31" />
<ellipse cx="360.0" cy="690.5" rx="12.5" ry="14.5" transform="rotate(-15 360.0 690.5)" fill="none" stroke="#000" stroke-width="2.36"/>
<ellipse cx="360.5" cy="691.0" rx="8.8" ry="10.8" transform="rotate(-15 360.5 691.0)" fill="none" stroke="#000" stroke-width="2.12"/>
<ellipse cx="361.0" cy="691.5" rx="2.0" ry="2.5" transform="rotate(-15 361.0 691.5)" fill="none" stroke="#000" stroke-width="1.09"/>
<ellipse cx="361.0" cy="691.5" rx="3.2" ry="4.0" transform="rotate(-15 361.0 691.5)" fill="none" stroke="#000" stroke-width="1.09"/>
<ellipse cx="361.0" cy="691.5" rx="4.4" ry="5.5" transform="rotate(-15 361.0 691.5)" fill="none" stroke="#000" stroke-width="1.09"/>
<path d="M390.4,742.0 C391.7,741.2 394.1,738.8 398.0,737.0 C401.9,735.2 409.3,733.0 414.0,731.5 C418.7,730.0 423.2,727.4 426.0,728.0 C428.8,728.6 429.8,733.8 430.6,735.0" fill="none" stroke="#000" stroke-width="1.31" />
<ellipse cx="399.0" cy="746.5" rx="8.5" ry="11.0" transform="rotate(-20 399.0 746.5)" fill="none" stroke="#000" stroke-width="1.89"/>
<ellipse cx="400.0" cy="745.5" rx="5.8" ry="7.8" transform="rotate(-20 400.0 745.5)" fill="none" stroke="#000" stroke-width="1.42"/>
<path d="M458.0,531.0 C458.6,527.4 458.6,523.5 461.9,520.3 C465.2,517.0 472.5,514.4 478.0,511.5 C483.5,508.6 490.7,504.3 494.7,503.0 C498.7,501.7 498.9,502.2 502.0,503.9 C505.1,505.6 510.2,509.4 513.0,513.0 C515.8,516.6 517.6,521.5 518.5,525.8 C519.4,530.0 519.4,535.5 518.5,538.5 C517.6,541.5 516.6,541.8 513.0,544.0 C509.4,546.2 502.2,549.4 497.0,552.0 C491.8,554.6 485.7,558.1 482.0,559.5 C478.3,560.9 477.8,561.5 474.7,560.4 C471.6,559.3 466.4,556.1 463.7,553.1 C460.9,550.1 459.1,545.9 458.2,542.2 C457.2,538.5 457.4,534.6 458.0,531.0 Z" fill="#fff" stroke="#000" stroke-width="1.89" />
<path d="M471.0,524.0 C472.3,525.2 476.9,528.3 479.0,531.0 C481.1,533.7 482.7,537.0 483.8,540.4 C484.9,543.8 485.3,549.5 485.6,551.3" fill="none" stroke="#000" stroke-width="1.09" />
<path d="M516.6,496.6 C517.1,494.0 518.1,494.2 521.2,492.0 C524.3,489.8 530.3,486.4 535.0,483.5 C539.7,480.6 545.6,476.3 549.5,474.7 C553.4,473.1 555.6,472.9 558.6,473.8 C561.6,474.7 565.0,477.1 567.7,480.1 C570.4,483.1 573.6,488.6 575.0,492.0 C576.4,495.4 576.6,497.6 576.0,500.2 C575.4,502.8 574.6,504.9 571.4,507.5 C568.2,510.1 561.9,512.9 557.0,515.5 C552.1,518.1 545.9,521.3 542.2,523.0 C538.5,524.7 537.0,525.6 534.9,525.8 C532.8,526.0 531.2,525.2 529.4,524.0 C527.6,522.8 525.7,521.2 523.9,518.5 C522.1,515.8 519.7,511.1 518.5,507.5 C517.3,503.9 516.1,499.2 516.6,496.6 Z" fill="#fff" stroke="#000" stroke-width="1.89" />
<path d="M533.0,502.0 C533.3,500.5 530.9,499.2 534.9,496.6 C538.9,494.0 552.4,487.7 556.8,486.5 C561.2,485.3 560.3,487.9 561.4,489.3 C562.5,490.7 566.4,491.5 563.2,494.7 C560.0,497.9 546.5,505.8 542.2,508.4 C537.9,511.0 539.1,510.8 537.6,510.3 C536.1,509.9 533.8,507.1 533.0,505.7 C532.2,504.3 532.7,503.5 533.0,502.0 Z" fill="none" stroke="#000" stroke-width="1.65" />
<ellipse cx="521.5" cy="498.5" rx="2.6" ry="3.6" transform="rotate(-20 521.5 498.5)" fill="none" stroke="#000" stroke-width="1.42"/>
<ellipse cx="535.5" cy="521.0" rx="3.4" ry="2.4" transform="rotate(20 535.5 521.0)" fill="none" stroke="#000" stroke-width="1.42"/>
<path d="M527.0,492.5 L533.5,496.0" fill="none" stroke="#000" stroke-width="1.09" />
<path d="M540.5,514.0 L541.0,519.0" fill="none" stroke="#000" stroke-width="1.09" />
<path d="M555.0,492.0 L556.0,496.5" fill="none" stroke="#000" stroke-width="1.09" />
<ellipse cx="592.4" cy="474.5" rx="17.5" ry="24.0" transform="rotate(-28 592.4 474.5)" fill="none" stroke="#000" stroke-width="2.24"/>
<ellipse cx="590.2" cy="475.5" rx="10.8" ry="16.2" transform="rotate(-28 590.2 475.5)" fill="none" stroke="#000" stroke-width="2.01"/>
<ellipse cx="589.2" cy="476.0" rx="9.2" ry="14.6" transform="rotate(-28 589.2 476.0)" fill="none" stroke="#000" stroke-width="1.09"/>
<ellipse cx="588.4" cy="476.5" rx="8.0" ry="13.2" transform="rotate(-28 588.4 476.5)" fill="none" stroke="#000" stroke-width="1.09"/>
<ellipse cx="443.0" cy="558.0" rx="17.5" ry="24.0" transform="rotate(-28 443.0 558.0)" fill="none" stroke="#000" stroke-width="2.24"/>
<ellipse cx="440.6" cy="557.8" rx="10.6" ry="16.4" transform="rotate(-28 440.6 557.8)" fill="none" stroke="#000" stroke-width="2.01"/>
<ellipse cx="441.8" cy="557.4" rx="9.2" ry="14.8" transform="rotate(-28 441.8 557.4)" fill="none" stroke="#000" stroke-width="1.09"/>
<path d="M535.0,644.5 C535.6,640.9 535.6,637.0 538.9,633.8 C542.2,630.5 549.5,627.9 555.0,625.0 C560.5,622.1 567.7,617.8 571.7,616.5 C575.7,615.2 576.0,615.7 579.0,617.4 C582.0,619.1 587.2,622.9 590.0,626.5 C592.8,630.1 594.6,635.0 595.5,639.3 C596.4,643.5 596.4,649.0 595.5,652.0 C594.6,655.0 593.6,655.2 590.0,657.5 C586.4,659.8 579.2,662.9 574.0,665.5 C568.8,668.1 562.7,671.6 559.0,673.0 C555.3,674.4 554.8,675.0 551.7,673.9 C548.7,672.8 543.5,669.6 540.7,666.6 C538.0,663.6 536.2,659.4 535.2,655.7 C534.2,652.0 534.4,648.1 535.0,644.5 Z" fill="#fff" stroke="#000" stroke-width="1.89" />
<path d="M548.0,637.5 C549.3,638.7 553.9,641.8 556.0,644.5 C558.1,647.2 559.7,650.5 560.8,653.9 C561.9,657.3 562.3,663.0 562.6,664.8" fill="none" stroke="#000" stroke-width="1.09" />
<path d="M593.6,610.1 C594.1,607.5 595.1,607.7 598.2,605.5 C601.3,603.3 607.3,599.9 612.0,597.0 C616.7,594.1 622.6,589.8 626.5,588.2 C630.4,586.6 632.6,586.4 635.6,587.3 C638.6,588.2 642.0,590.6 644.7,593.6 C647.4,596.6 650.6,602.1 652.0,605.5 C653.4,608.9 653.6,611.1 653.0,613.7 C652.4,616.3 651.6,618.5 648.4,621.0 C645.2,623.5 638.9,626.4 634.0,629.0 C629.1,631.6 622.9,634.8 619.2,636.5 C615.5,638.2 614.0,639.1 611.9,639.3 C609.8,639.5 608.2,638.7 606.4,637.5 C604.6,636.3 602.7,634.8 600.9,632.0 C599.1,629.2 596.7,624.6 595.5,621.0 C594.3,617.4 593.1,612.7 593.6,610.1 Z" fill="#fff" stroke="#000" stroke-width="1.89" />
<path d="M610.0,615.5 C610.3,614.0 607.9,612.7 611.9,610.1 C615.9,607.5 629.4,601.2 633.8,600.0 C638.2,598.8 637.3,601.4 638.4,602.8 C639.5,604.2 643.4,605.0 640.2,608.2 C637.0,611.4 623.5,619.3 619.2,621.9 C614.9,624.5 616.1,624.2 614.6,623.8 C613.1,623.3 610.8,620.6 610.0,619.2 C609.2,617.8 609.7,617.0 610.0,615.5 Z" fill="none" stroke="#000" stroke-width="1.65" />
<ellipse cx="598.5" cy="612.0" rx="2.6" ry="3.6" transform="rotate(-20 598.5 612.0)" fill="none" stroke="#000" stroke-width="1.42"/>
<ellipse cx="612.5" cy="634.5" rx="3.4" ry="2.4" transform="rotate(20 612.5 634.5)" fill="none" stroke="#000" stroke-width="1.42"/>
<path d="M604.0,606.0 L610.5,609.5" fill="none" stroke="#000" stroke-width="1.09" />
<path d="M617.5,627.5 L618.0,632.5" fill="none" stroke="#000" stroke-width="1.09" />
<path d="M632.0,605.5 L633.0,610.0" fill="none" stroke="#000" stroke-width="1.09" />
<ellipse cx="669.4" cy="588.0" rx="17.5" ry="24.0" transform="rotate(-28 669.4 588.0)" fill="none" stroke="#000" stroke-width="2.24"/>
<ellipse cx="667.2" cy="589.0" rx="10.8" ry="16.2" transform="rotate(-28 667.2 589.0)" fill="none" stroke="#000" stroke-width="2.01"/>
<ellipse cx="666.2" cy="589.5" rx="9.2" ry="14.6" transform="rotate(-28 666.2 589.5)" fill="none" stroke="#000" stroke-width="1.09"/>
<ellipse cx="665.4" cy="590.0" rx="8.0" ry="13.2" transform="rotate(-28 665.4 590.0)" fill="none" stroke="#000" stroke-width="1.09"/>
<ellipse cx="520.0" cy="671.5" rx="17.5" ry="24.0" transform="rotate(-28 520.0 671.5)" fill="none" stroke="#000" stroke-width="2.24"/>
<ellipse cx="517.6" cy="671.3" rx="10.6" ry="16.4" transform="rotate(-28 517.6 671.3)" fill="none" stroke="#000" stroke-width="2.01"/>
<ellipse cx="518.8" cy="670.9" rx="9.2" ry="14.8" transform="rotate(-28 518.8 670.9)" fill="none" stroke="#000" stroke-width="1.09"/>
<path d="M285.3,575.7 C286.8,573.6 287.9,573.8 289.6,574.0 C291.3,574.3 293.7,576.0 295.5,577.2 C297.2,578.3 299.4,579.6 300.2,580.8 C301.1,582.0 301.3,582.3 300.6,584.1 C299.9,585.9 297.5,589.1 296.2,591.4 C294.9,593.7 294.0,595.8 292.6,598.0 C291.1,600.1 289.0,603.1 287.4,604.5 C285.9,606.0 284.5,606.4 283.1,606.6 C281.6,606.7 280.2,606.3 278.7,605.4 C277.2,604.5 274.9,602.9 273.9,601.2 C273.0,599.6 272.7,597.0 273.0,595.4 C273.2,593.8 274.2,592.9 275.4,591.4 C276.6,589.9 278.5,588.9 280.1,586.3 C281.8,583.7 283.7,577.7 285.3,575.7 Z" fill="none" stroke="#000" stroke-width="3.30" />
<path d="M284.5,584.1 C285.3,582.8 286.8,580.9 288.2,580.1 C289.5,579.3 291.3,579.0 292.6,579.3 C293.8,579.6 295.4,580.6 295.8,581.9 C296.3,583.2 296.0,585.3 295.5,587.0 C294.9,588.7 293.6,591.1 292.6,592.1 C291.5,593.2 290.1,593.3 288.9,593.2 C287.7,593.1 286.2,592.3 285.3,591.4 C284.3,590.5 283.6,589.0 283.4,587.7 C283.3,586.5 283.7,585.4 284.5,584.1 Z" fill="none" stroke="#000" stroke-width="1.65" />
<path d="M288.2,583.0 L292.2,585.5" fill="none" stroke="#000" stroke-width="1.31" />
<ellipse cx="280.9" cy="597.6" rx="5.6" ry="6.6" transform="rotate(-30 280.9 597.6)" fill="none" stroke="#000" stroke-width="2.60"/>
<ellipse cx="280.9" cy="597.6" rx="2.4" ry="3.4" transform="rotate(-30 280.9 597.6)" fill="none" stroke="#000" stroke-width="2.12"/>
<path d="M286.7,594.3 L289.6,595.0" fill="none" stroke="#000" stroke-width="1.09" />
<path d="M254.6,627.2 C255.0,625.6 256.8,623.9 257.5,622.0 C258.2,620.2 257.9,618.2 258.6,616.2 C259.3,614.3 260.4,611.9 261.9,610.4 C263.4,608.8 266.3,607.5 267.7,606.7 C269.2,605.9 269.4,605.5 270.7,605.4 C271.9,605.3 273.9,605.4 275.0,606.1 C276.2,606.8 277.2,608.1 277.6,609.6 C278.0,611.2 277.7,613.6 277.2,615.5 C276.8,617.3 276.0,618.9 275.0,620.6 C274.1,622.3 272.6,624.6 271.4,625.7 C270.2,626.8 269.0,626.4 267.7,627.2 C266.5,627.9 265.1,629.5 264.1,630.4 C263.1,631.4 262.9,632.4 261.9,633.0 C260.9,633.5 259.4,634.0 258.2,633.7 C257.1,633.4 255.6,632.3 255.0,631.2 C254.4,630.1 254.2,628.7 254.6,627.2 Z" fill="none" stroke="#000" stroke-width="2.36" />
<ellipse cx="272.5" cy="609.6" rx="4.3" ry="4.0" transform="rotate(0 272.5 609.6)" fill="none" stroke="#000" stroke-width="2.36"/>
<ellipse cx="272.5" cy="609.6" rx="1.8" ry="1.6" transform="rotate(0 272.5 609.6)" fill="none" stroke="#000" stroke-width="1.65"/>
<path d="M262.6,611.1 C262.9,611.9 263.0,615.0 264.1,616.2 C265.2,617.4 267.5,618.3 269.2,618.4 C270.9,618.5 273.5,617.2 274.3,616.9" fill="none" stroke="#000" stroke-width="1.42" />
<path d="M265.2,613.6 C265.5,614.1 266.1,615.7 267.0,616.2 C267.9,616.8 270.0,616.8 270.7,616.9" fill="none" stroke="#000" stroke-width="1.20" />
<path d="M260.4,617.7 C260.7,618.4 260.9,621.1 261.9,622.0 C262.9,623.0 264.7,623.6 266.3,623.5 C267.9,623.4 270.5,621.7 271.4,621.3" fill="none" stroke="#000" stroke-width="1.31" />
<path d="M258.2,624.2 C258.6,624.7 259.6,626.5 260.4,627.2 C261.3,627.8 262.9,627.8 263.4,627.9" fill="none" stroke="#000" stroke-width="1.20" />
<path d="M256.4,628.6 C256.8,628.9 258.1,630.2 259.0,630.4 C259.9,630.7 261.4,630.1 261.9,630.1" fill="none" stroke="#000" stroke-width="1.09" />
<ellipse cx="361.5" cy="503.5" rx="8.8" ry="13.2" transform="rotate(-28 361.5 503.5)" fill="#fff" stroke="#000" stroke-width="2.24"/>
<ellipse cx="356.5" cy="506.5" rx="8.8" ry="13.0" transform="rotate(-28 356.5 506.5)" fill="#fff" stroke="#000" stroke-width="2.24"/>
<ellipse cx="351.5" cy="509.5" rx="8.8" ry="12.6" transform="rotate(-28 351.5 509.5)" fill="#fff" stroke="#000" stroke-width="2.24"/>
<ellipse cx="344.3" cy="512.8" rx="8.4" ry="10.8" transform="rotate(-28 344.3 512.8)" fill="#fff" stroke="#000" stroke-width="2.36"/>
<ellipse cx="345.2" cy="512.2" rx="6.4" ry="8.6" transform="rotate(-28 345.2 512.2)" fill="none" stroke="#000" stroke-width="1.42"/>
<ellipse cx="344.2" cy="513.2" rx="3.4" ry="5.0" transform="rotate(-28 344.2 513.2)" fill="none" stroke="#000" stroke-width="2.01"/>
<ellipse cx="343.6" cy="513.6" rx="1.8" ry="3.0" transform="rotate(-28 343.6 513.6)" fill="none" stroke="#000" stroke-width="1.09"/>
<ellipse cx="556.5" cy="751.5" rx="7.8" ry="11.8" transform="rotate(-25 556.5 751.5)" fill="#fff" stroke="#000" stroke-width="2.12"/>
<ellipse cx="552.0" cy="753.8" rx="7.8" ry="11.6" transform="rotate(-25 552.0 753.8)" fill="#fff" stroke="#000" stroke-width="2.01"/>
<ellipse cx="547.5" cy="756.2" rx="7.6" ry="11.2" transform="rotate(-25 547.5 756.2)" fill="#fff" stroke="#000" stroke-width="2.01"/>
<ellipse cx="542.5" cy="759.0" rx="5.6" ry="9.2" transform="rotate(-25 542.5 759.0)" fill="#fff" stroke="#000" stroke-width="1.89"/>
<ellipse cx="541.5" cy="759.5" rx="4.6" ry="8.2" transform="rotate(-25 541.5 759.5)" fill="none" stroke="#000" stroke-width="1.09"/>
<path d="M514.1,765.2 L538.0,753.6" fill="none" stroke="#000" stroke-width="1.89" />
<path d="M523.2,779.3 L545.0,768.0" fill="none" stroke="#000" stroke-width="1.89" />
<path d="M500.1,774.3 C501.4,772.2 505.8,766.8 508.1,765.2 C510.4,763.6 512.4,764.0 514.0,764.5 C515.6,765.0 516.6,765.4 518.0,768.0 C519.4,770.6 522.2,777.2 522.2,780.3 C522.2,783.3 520.5,785.0 518.1,786.3 C515.8,787.6 510.8,788.6 508.1,788.3 C505.4,788.0 503.4,786.0 502.1,784.3 C500.8,782.6 500.4,779.7 500.1,778.0 C499.8,776.3 498.8,776.4 500.1,774.3 Z" fill="#fff" stroke="#000" stroke-width="2.01" />
<path d="M503.0,775.0 L509.0,783.5 L519.0,780.5" fill="none" stroke="#000" stroke-width="1.09" />
<path d="M509.0,783.5 L508.0,788.0" fill="none" stroke="#000" stroke-width="0.98" />
<path d="M509.0,766.0 L514.5,778.0" fill="none" stroke="#000" stroke-width="0.98" />
<path d="M742.6,398.5 L742.3,391.9 L744.0,388.2 L746.9,387.5 L749.9,389.7 L754.2,397.7" fill="none" stroke="#000" stroke-width="1.77" />
<path d="M738.2,405.0 L740.4,401.8 L745.5,400.7 L754.2,398.5 L760.1,399.2 L761.5,396.3 L765.9,394.8 L763.0,398.5 L771.8,393.4 L776.1,391.9 L773.9,395.5 L782.0,390.4 L783.4,393.4 L786.4,409.4" fill="none" stroke="#000" stroke-width="1.77" />
<path d="M786.4,409.4 L800.9,405.8 L806.8,406.5 L810.4,410.9 L811.2,416.7 L808.2,420.4 L761.5,443.0 L754.2,441.5 L751.3,438.6 L749.9,434.2 L748.4,420.4 L742.6,421.1 L737.4,422.6 L735.3,418.2 L735.3,413.8 L737.4,410.9 L738.2,405.0" fill="none" stroke="#000" stroke-width="1.89" />
<path d="M751.3,419.6 L780.5,405.0" fill="none" stroke="#000" stroke-width="1.20" />
<path d="M754.2,428.4 L783.4,413.8" fill="none" stroke="#000" stroke-width="1.20" />
<path d="M754.2,438.6 L803.9,413.8" fill="none" stroke="#000" stroke-width="1.20" />
<path d="M756.0,441.2 L806.1,416.4" fill="none" stroke="#000" stroke-width="1.20" />
<path d="M792.2,418.2 C792.8,417.2 796.9,414.1 798.8,413.1 C800.6,412.0 802.0,411.9 803.1,412.0 C804.2,412.2 805.2,413.1 805.3,413.8 C805.5,414.5 805.6,415.6 803.9,416.4 C802.2,417.3 797.1,418.6 795.1,418.9 C793.2,419.2 791.6,419.1 792.2,418.2 Z" fill="none" stroke="#000" stroke-width="1.42" />
<path d="M773.2,438.6 L783.4,454.7" fill="none" stroke="#000" stroke-width="1.77" />
<path d="M786.4,431.3 L796.6,448.8" fill="none" stroke="#000" stroke-width="1.77" />
<path d="M776.1,438.6 L786.4,434.2" fill="none" stroke="#000" stroke-width="1.09" />
<path d="M778.3,443.7 L789.3,439.3" fill="none" stroke="#000" stroke-width="1.09" />
<path d="M781.2,449.6 L792.2,445.2" fill="none" stroke="#000" stroke-width="1.09" />
<path d="M774.7,463.4 L818.5,438.6 L830.1,437.2 L833.8,441.5 L833.8,447.4 L831.6,451.8 L819.9,457.6 L827.2,469.3 L828.7,475.1 L821.4,482.4 L821.4,492.6 L818.5,495.5 L809.7,497.0 L805.3,494.1 L799.5,494.8 L792.2,499.9 L789.3,497.0 L787.8,489.7 L792.2,483.9 L786.4,478.0 L780.5,475.1 L776.1,475.1 L773.2,472.2 L773.2,466.4 L774.7,463.4" fill="none" stroke="#000" stroke-width="1.89" />
<path d="M809.0,485.3 L814.1,477.3 L817.7,478.8 L820.7,486.8 L818.5,494.1" fill="none" stroke="#000" stroke-width="1.65" />
<path d="M776.1,470.7 L830.1,443.0" fill="none" stroke="#000" stroke-width="1.20" />
<path d="M777.6,473.9 L830.9,446.2" fill="none" stroke="#000" stroke-width="1.20" />
<path d="M789.3,475.1 L817.0,460.5" fill="none" stroke="#000" stroke-width="1.20" />
<path d="M795.1,479.5 L819.9,464.9" fill="none" stroke="#000" stroke-width="1.20" />
<path d="M816.3,448.8 C816.9,447.9 821.0,444.7 822.8,443.7 C824.7,442.7 826.1,442.6 827.2,442.7 C828.3,442.8 829.3,443.7 829.4,444.5 C829.5,445.2 829.7,446.2 828.0,447.1 C826.3,447.9 821.1,449.3 819.2,449.6 C817.3,449.9 815.7,449.8 816.3,448.8 Z" fill="none" stroke="#000" stroke-width="1.42" />
<ellipse cx="247.4" cy="1044.7" rx="12.0" ry="16.0" transform="rotate(-20 247.4 1044.7)" fill="#fff" stroke="#000" stroke-width="2.12"/>
<ellipse cx="248.5" cy="1044.0" rx="9.5" ry="13.0" transform="rotate(-20 248.5 1044.0)" fill="none" stroke="#000" stroke-width="1.31"/>
<ellipse cx="245.8" cy="1046.0" rx="6.5" ry="9.0" transform="rotate(-20 245.8 1046.0)" fill="none" stroke="#000" stroke-width="1.42"/>
<ellipse cx="245.5" cy="1046.5" rx="3.3" ry="4.5" transform="rotate(-20 245.5 1046.5)" fill="none" stroke="#000" stroke-width="2.12"/>
<ellipse cx="258.0" cy="1038.0" rx="5.5" ry="8.3" transform="rotate(-20 258.0 1038.0)" fill="none" stroke="#000" stroke-width="1.89"/>
<ellipse cx="254.0" cy="1040.5" rx="6.5" ry="10.5" transform="rotate(-20 254.0 1040.5)" fill="none" stroke="#000" stroke-width="1.31"/>
<path d="M262.9,1030.1 L286.5,1018.0" fill="none" stroke="#000" stroke-width="1.89" />
<path d="M271.1,1041.0 L291.5,1030.0" fill="none" stroke="#000" stroke-width="1.89" />
<ellipse cx="289.5" cy="1024.0" rx="3.5" ry="6.3" transform="rotate(-22 289.5 1024.0)" fill="none" stroke="#000" stroke-width="1.77"/>
<path d="M264.5,1030.5 C264.9,1031.3 266.2,1033.8 266.7,1035.5 C267.1,1037.2 267.1,1039.7 267.2,1040.5" fill="none" stroke="#000" stroke-width="1.09" />
<path d="M267.5,1029.0 C267.9,1029.8 269.2,1032.3 269.7,1034.0 C270.1,1035.6 270.1,1038.1 270.2,1039.0" fill="none" stroke="#000" stroke-width="1.09" />
<path d="M270.5,1027.4 C270.9,1028.2 272.2,1030.7 272.7,1032.4 C273.1,1034.1 273.1,1036.6 273.2,1037.4" fill="none" stroke="#000" stroke-width="1.09" />
<path d="M273.5,1025.8 C273.9,1026.7 275.2,1029.2 275.7,1030.8 C276.1,1032.5 276.1,1035.0 276.2,1035.8" fill="none" stroke="#000" stroke-width="1.09" />
<path d="M276.5,1024.3 C276.9,1025.1 278.2,1027.6 278.7,1029.3 C279.1,1031.0 279.1,1033.5 279.2,1034.3" fill="none" stroke="#000" stroke-width="1.09" />
<path d="M279.5,1022.8 C279.9,1023.6 281.2,1026.1 281.7,1027.8 C282.1,1029.4 282.1,1031.9 282.2,1032.8" fill="none" stroke="#000" stroke-width="1.09" />
<path d="M282.5,1021.2 C282.9,1022.0 284.2,1024.5 284.7,1026.2 C285.1,1027.9 285.1,1030.4 285.2,1031.2" fill="none" stroke="#000" stroke-width="1.09" />
<path d="M285.5,1019.7 C285.9,1020.5 287.2,1023.0 287.7,1024.7 C288.1,1026.3 288.1,1028.8 288.2,1029.7" fill="none" stroke="#000" stroke-width="1.09" />
</svg></body></html>
